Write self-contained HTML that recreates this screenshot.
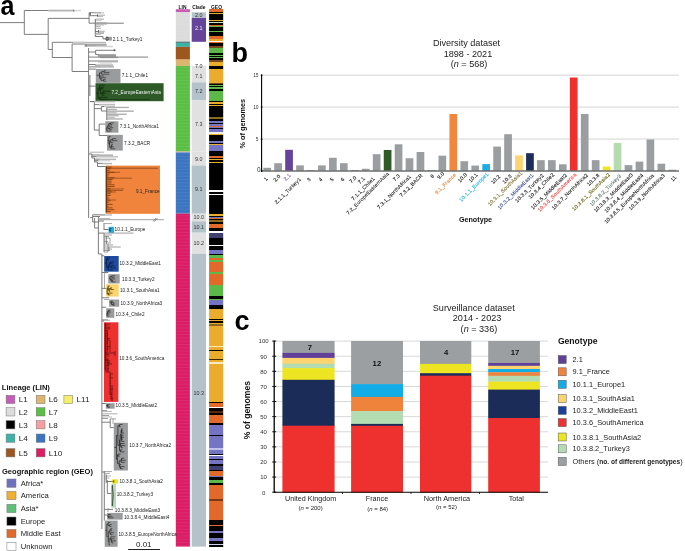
<!DOCTYPE html>
<html><head><meta charset="utf-8"><style>
html,body{margin:0;padding:0;background:#fff;width:685px;height:551px;overflow:hidden}
svg{display:block;font-family:"Liberation Sans", sans-serif;will-change:transform}
</style></head><body>
<svg width="685" height="551" viewBox="0 0 685 551">
<text x="0" y="0" font-size="27" fill="#000" font-weight="bold" transform="translate(0.6 14.9) scale(0.93 1)">a</text>
<text x="231.50" y="61.80" font-size="27" fill="#000" text-anchor="start" font-weight="bold" >b</text>
<text x="234.60" y="329.90" font-size="27" fill="#000" text-anchor="start" font-weight="bold" >c</text>
<text x="432.90" y="45.70" font-size="9.1" fill="#222" text-anchor="start" font-weight="normal" >Diversity dataset</text>
<text x="443.70" y="56.80" font-size="9.1" fill="#222" text-anchor="start" font-weight="normal" >1898 - 2021</text>
<text x="450.70" y="66.90" font-size="9.1" fill="#222" text-anchor="start" font-weight="normal" >(<tspan font-style="italic">n</tspan> = 568)</text>
<line x1="262.00" y1="139.05" x2="679.00" y2="139.05" stroke="#cfcfcf" stroke-width="0.9" />
<line x1="262.00" y1="107.10" x2="679.00" y2="107.10" stroke="#cfcfcf" stroke-width="0.9" />
<line x1="262.00" y1="75.15" x2="679.00" y2="75.15" stroke="#cfcfcf" stroke-width="0.9" />
<rect x="263.30" y="167.81" width="7.70" height="3.19" fill="#9b9ea1" />
<text x="268.15" y="179.10" font-size="5.2" letter-spacing="0.14" fill="#111" stroke="#111" stroke-width="0.12" text-anchor="end" transform="rotate(-45 268.15 179.10)">1</text>
<rect x="274.25" y="163.20" width="7.70" height="7.80" fill="#9b9ea1" />
<text x="280.80" y="176.70" font-size="5.2" letter-spacing="0.14" fill="#1a1a1a" stroke="#1a1a1a" stroke-width="0.12" text-anchor="end" transform="rotate(-45 280.80 176.70)">2.0</text>
<rect x="285.20" y="149.79" width="7.70" height="21.21" fill="#66449a" />
<text x="291.25" y="175.70" font-size="5.2" letter-spacing="0.14" fill="#7a5cb0" stroke="#7a5cb0" stroke-width="0.12" text-anchor="end" transform="rotate(-45 291.25 175.70)">2.1</text>
<rect x="296.15" y="165.38" width="7.70" height="5.62" fill="#9b9ea1" />
<text x="301.30" y="179.70" font-size="5.2" letter-spacing="0.14" fill="#1a1a1a" stroke="#1a1a1a" stroke-width="0.12" text-anchor="end" transform="rotate(-45 301.30 179.70)">2.1.1_Turkey1</text>
<rect x="307.10" y="169.98" width="7.70" height="1.02" fill="#9b9ea1" />
<text x="311.05" y="179.70" font-size="5.2" letter-spacing="0.14" fill="#1a1a1a" stroke="#1a1a1a" stroke-width="0.12" text-anchor="end" transform="rotate(-45 311.05 179.70)">3</text>
<rect x="318.05" y="165.38" width="7.70" height="5.62" fill="#9b9ea1" />
<text x="322.90" y="179.70" font-size="5.2" letter-spacing="0.14" fill="#1a1a1a" stroke="#1a1a1a" stroke-width="0.12" text-anchor="end" transform="rotate(-45 322.90 179.70)">4</text>
<rect x="329.00" y="157.77" width="7.70" height="13.23" fill="#9b9ea1" />
<text x="334.05" y="179.70" font-size="5.2" letter-spacing="0.14" fill="#1a1a1a" stroke="#1a1a1a" stroke-width="0.12" text-anchor="end" transform="rotate(-45 334.05 179.70)">5</text>
<rect x="339.95" y="163.20" width="7.70" height="7.80" fill="#9b9ea1" />
<text x="345.00" y="179.70" font-size="5.2" letter-spacing="0.14" fill="#1a1a1a" stroke="#1a1a1a" stroke-width="0.12" text-anchor="end" transform="rotate(-45 345.00 179.70)">6</text>
<rect x="350.90" y="169.98" width="7.70" height="1.02" fill="#9b9ea1" />
<text x="356.95" y="178.00" font-size="5.2" letter-spacing="0.14" fill="#1a1a1a" stroke="#1a1a1a" stroke-width="0.12" text-anchor="end" transform="rotate(-45 356.95 178.00)">7.0</text>
<rect x="361.85" y="168.76" width="7.70" height="2.24" fill="#9b9ea1" />
<text x="365.50" y="178.80" font-size="5.2" letter-spacing="0.14" fill="#1a1a1a" stroke="#1a1a1a" stroke-width="0.12" text-anchor="end" transform="rotate(-45 365.50 178.80)">7.1</text>
<rect x="372.80" y="154.19" width="7.70" height="16.81" fill="#9b9ea1" />
<text x="375.25" y="179.00" font-size="5.2" letter-spacing="0.14" fill="#1a1a1a" stroke="#1a1a1a" stroke-width="0.12" text-anchor="end" transform="rotate(-45 375.25 179.00)">7.1.1_Chile1</text>
<rect x="383.75" y="149.98" width="7.70" height="21.02" fill="#2e5a26" />
<text x="389.30" y="174.10" font-size="5.2" letter-spacing="0.14" fill="#333" stroke="#333" stroke-width="0.12" text-anchor="end" transform="rotate(-45 389.30 174.10)">7.2_EuropeEasternAsia</text>
<rect x="394.70" y="144.29" width="7.70" height="26.71" fill="#9b9ea1" />
<text x="400.35" y="176.00" font-size="5.2" letter-spacing="0.14" fill="#1a1a1a" stroke="#1a1a1a" stroke-width="0.12" text-anchor="end" transform="rotate(-45 400.35 176.00)">7.3</text>
<rect x="405.65" y="158.22" width="7.70" height="12.78" fill="#9b9ea1" />
<text x="411.50" y="176.80" font-size="5.2" letter-spacing="0.14" fill="#1a1a1a" stroke="#1a1a1a" stroke-width="0.12" text-anchor="end" transform="rotate(-45 411.50 176.80)">7.3.1_NorthAfrica1</text>
<rect x="416.60" y="152.02" width="7.70" height="18.98" fill="#9b9ea1" />
<text x="423.05" y="175.80" font-size="5.2" letter-spacing="0.14" fill="#1a1a1a" stroke="#1a1a1a" stroke-width="0.12" text-anchor="end" transform="rotate(-45 423.05 175.80)">7.3.2_BACR</text>
<rect x="427.55" y="169.98" width="7.70" height="1.02" fill="#9b9ea1" />
<text x="434.60" y="176.40" font-size="5.2" letter-spacing="0.14" fill="#1a1a1a" stroke="#1a1a1a" stroke-width="0.12" text-anchor="end" transform="rotate(-45 434.60 176.40)">8</text>
<rect x="438.50" y="155.66" width="7.70" height="15.34" fill="#9b9ea1" />
<text x="444.65" y="174.20" font-size="5.2" letter-spacing="0.14" fill="#1a1a1a" stroke="#1a1a1a" stroke-width="0.12" text-anchor="end" transform="rotate(-45 444.65 174.20)">9.0</text>
<rect x="449.45" y="114.00" width="7.70" height="57.00" fill="#f2863c" />
<text x="456.50" y="175.10" font-size="5.2" letter-spacing="0.14" fill="#f2863c" stroke="#f2863c" stroke-width="0.12" text-anchor="end" transform="rotate(-45 456.50 175.10)">9.1_France</text>
<rect x="460.40" y="161.22" width="7.70" height="9.78" fill="#9b9ea1" />
<text x="467.45" y="175.10" font-size="5.2" letter-spacing="0.14" fill="#1a1a1a" stroke="#1a1a1a" stroke-width="0.12" text-anchor="end" transform="rotate(-45 467.45 175.10)">10.0</text>
<rect x="471.35" y="165.57" width="7.70" height="5.43" fill="#9b9ea1" />
<text x="478.20" y="175.10" font-size="5.2" letter-spacing="0.14" fill="#1a1a1a" stroke="#1a1a1a" stroke-width="0.12" text-anchor="end" transform="rotate(-45 478.20 175.10)">10.1</text>
<rect x="482.30" y="164.10" width="7.70" height="6.90" fill="#1aaee6" />
<text x="488.85" y="174.50" font-size="5.2" letter-spacing="0.14" fill="#1aaee6" stroke="#1aaee6" stroke-width="0.12" text-anchor="end" transform="rotate(-45 488.85 174.50)">10.1.1_Europe1</text>
<rect x="493.25" y="146.59" width="7.70" height="24.41" fill="#9b9ea1" />
<text x="500.70" y="176.80" font-size="5.2" letter-spacing="0.14" fill="#1a1a1a" stroke="#1a1a1a" stroke-width="0.12" text-anchor="end" transform="rotate(-45 500.70 176.80)">10.2</text>
<rect x="504.20" y="134.19" width="7.70" height="36.81" fill="#9b9ea1" />
<text x="512.15" y="176.40" font-size="5.2" letter-spacing="0.14" fill="#1a1a1a" stroke="#1a1a1a" stroke-width="0.12" text-anchor="end" transform="rotate(-45 512.15 176.40)">10.3</text>
<rect x="515.15" y="155.41" width="7.70" height="15.59" fill="#fdd46f" />
<text x="522.60" y="173.50" font-size="5.2" letter-spacing="0.14" fill="#7a6a2a" stroke="#7a6a2a" stroke-width="0.12" text-anchor="end" transform="rotate(-45 522.60 173.50)">10.3.1_SouthAsia1</text>
<rect x="526.10" y="153.17" width="7.70" height="17.83" fill="#1d2d5a" />
<text x="533.95" y="175.50" font-size="5.2" letter-spacing="0.14" fill="#3c4c8c" stroke="#3c4c8c" stroke-width="0.12" text-anchor="end" transform="rotate(-45 533.95 175.50)">10.3.2_MiddleEast1</text>
<rect x="537.05" y="160.14" width="7.70" height="10.86" fill="#9b9ea1" />
<text x="544.10" y="175.90" font-size="5.2" letter-spacing="0.14" fill="#1a1a1a" stroke="#1a1a1a" stroke-width="0.12" text-anchor="end" transform="rotate(-45 544.10 175.90)">10.3.3_Turkey2</text>
<rect x="548.00" y="160.14" width="7.70" height="10.86" fill="#9b9ea1" />
<text x="554.55" y="175.10" font-size="5.2" letter-spacing="0.14" fill="#1a1a1a" stroke="#1a1a1a" stroke-width="0.12" text-anchor="end" transform="rotate(-45 554.55 175.10)">10.3.4_Chile2</text>
<rect x="558.95" y="164.29" width="7.70" height="6.71" fill="#9b9ea1" />
<text x="567.30" y="175.50" font-size="5.2" letter-spacing="0.14" fill="#1a1a1a" stroke="#1a1a1a" stroke-width="0.12" text-anchor="end" transform="rotate(-45 567.30 175.50)">10.3.5_MiddleEast2</text>
<rect x="569.90" y="77.51" width="7.70" height="93.49" fill="#ee302e" />
<text x="576.95" y="174.90" font-size="5.2" letter-spacing="0.14" fill="#f04040" stroke="#f04040" stroke-width="0.12" text-anchor="end" transform="rotate(-45 576.95 174.90)">10.3.6_SouthAmerica</text>
<rect x="580.85" y="114.00" width="7.70" height="57.00" fill="#9b9ea1" />
<text x="588.30" y="175.50" font-size="5.2" letter-spacing="0.14" fill="#1a1a1a" stroke="#1a1a1a" stroke-width="0.12" text-anchor="end" transform="rotate(-45 588.30 175.50)">10.3.7_NorthAfrica2</text>
<rect x="591.80" y="160.14" width="7.70" height="10.86" fill="#9b9ea1" />
<text x="599.85" y="175.50" font-size="5.2" letter-spacing="0.14" fill="#1a1a1a" stroke="#1a1a1a" stroke-width="0.12" text-anchor="end" transform="rotate(-45 599.85 175.50)">10.3.8</text>
<rect x="602.75" y="166.53" width="7.70" height="4.47" fill="#ede521" />
<text x="610.30" y="175.10" font-size="5.2" letter-spacing="0.14" fill="#62620e" stroke="#62620e" stroke-width="0.12" text-anchor="end" transform="rotate(-45 610.30 175.10)">10.3.8.1_SouthAsia2</text>
<rect x="613.70" y="143.01" width="7.70" height="27.99" fill="#b4dcb0" />
<text x="621.65" y="176.40" font-size="5.2" letter-spacing="0.14" fill="#5a7a6a" stroke="#5a7a6a" stroke-width="0.12" text-anchor="end" transform="rotate(-45 621.65 176.40)">10.3.8.2_Turkey3</text>
<rect x="624.65" y="165.12" width="7.70" height="5.88" fill="#9b9ea1" />
<text x="633.40" y="175.10" font-size="5.2" letter-spacing="0.14" fill="#1a1a1a" stroke="#1a1a1a" stroke-width="0.12" text-anchor="end" transform="rotate(-45 633.40 175.10)">10.3.8.3_MiddleEast3</text>
<rect x="635.60" y="161.61" width="7.70" height="9.39" fill="#9b9ea1" />
<text x="643.85" y="175.50" font-size="5.2" letter-spacing="0.14" fill="#1a1a1a" stroke="#1a1a1a" stroke-width="0.12" text-anchor="end" transform="rotate(-45 643.85 175.50)">10.3.8.4_MiddleEast4</text>
<rect x="646.55" y="139.50" width="7.70" height="31.50" fill="#9b9ea1" />
<text x="654.50" y="175.80" font-size="5.2" letter-spacing="0.14" fill="#1a1a1a" stroke="#1a1a1a" stroke-width="0.12" text-anchor="end" transform="rotate(-45 654.50 175.80)">10.3.8.5_EuropeNorthAfrica</text>
<rect x="657.50" y="163.72" width="7.70" height="7.28" fill="#9b9ea1" />
<text x="665.35" y="175.90" font-size="5.2" letter-spacing="0.14" fill="#1a1a1a" stroke="#1a1a1a" stroke-width="0.12" text-anchor="end" transform="rotate(-45 665.35 175.90)">10.3.9_NorthAfrica3</text>
<rect x="668.45" y="169.72" width="7.70" height="1.28" fill="#9b9ea1" />
<text x="676.70" y="177.70" font-size="5.2" letter-spacing="0.14" fill="#1a1a1a" stroke="#1a1a1a" stroke-width="0.12" text-anchor="end" transform="rotate(-45 676.70 177.70)">11</text>
<line x1="261.50" y1="171.00" x2="679.00" y2="171.00" stroke="#6e6e6e" stroke-width="1.3" />
<line x1="261.60" y1="75.30" x2="261.60" y2="171.50" stroke="#000" stroke-width="1.1" />
<circle cx="261.6" cy="171.00" r="0.9" fill="#000"/>
<text x="260.50" y="171.80" font-size="6.4" fill="#333" text-anchor="end" font-weight="normal" >0</text>
<circle cx="261.6" cy="139.05" r="0.9" fill="#000"/>
<text x="258.60" y="140.85" font-size="4.9" fill="#333" text-anchor="end" font-weight="normal" >5</text>
<circle cx="261.6" cy="107.10" r="0.9" fill="#000"/>
<text x="258.60" y="108.90" font-size="4.9" fill="#333" text-anchor="end" font-weight="normal" >10</text>
<circle cx="261.6" cy="75.15" r="0.9" fill="#000"/>
<text x="258.60" y="76.95" font-size="4.9" fill="#333" text-anchor="end" font-weight="normal" >15</text>
<text x="242.6" y="123.7" font-size="7.3" font-weight="bold" fill="#111" text-anchor="middle" transform="rotate(-90 242.6 123.7)" dy="2.5">% of genomes</text>
<text x="458.90" y="221.90" font-size="7.2" fill="#111" text-anchor="start" font-weight="bold" >Genotype</text>
<text x="432.80" y="310.70" font-size="9.1" fill="#222" text-anchor="start" font-weight="normal" >Surveillance dataset</text>
<text x="452.80" y="321.40" font-size="9.1" fill="#222" text-anchor="start" font-weight="normal" >2014 - 2023</text>
<text x="460.60" y="331.60" font-size="9.1" fill="#222" text-anchor="start" font-weight="normal" >(<tspan font-style="italic">n</tspan> = 336)</text>
<line x1="275.00" y1="477.09" x2="548.00" y2="477.09" stroke="#d4d4d4" stroke-width="0.9" />
<line x1="275.00" y1="461.98" x2="548.00" y2="461.98" stroke="#d4d4d4" stroke-width="0.9" />
<line x1="275.00" y1="446.87" x2="548.00" y2="446.87" stroke="#d4d4d4" stroke-width="0.9" />
<line x1="275.00" y1="431.76" x2="548.00" y2="431.76" stroke="#d4d4d4" stroke-width="0.9" />
<line x1="275.00" y1="416.65" x2="548.00" y2="416.65" stroke="#d4d4d4" stroke-width="0.9" />
<line x1="275.00" y1="401.54" x2="548.00" y2="401.54" stroke="#d4d4d4" stroke-width="0.9" />
<line x1="275.00" y1="386.43" x2="548.00" y2="386.43" stroke="#d4d4d4" stroke-width="0.9" />
<line x1="275.00" y1="371.32" x2="548.00" y2="371.32" stroke="#d4d4d4" stroke-width="0.9" />
<line x1="275.00" y1="356.21" x2="548.00" y2="356.21" stroke="#d4d4d4" stroke-width="0.9" />
<line x1="275.00" y1="341.10" x2="548.00" y2="341.10" stroke="#d4d4d4" stroke-width="0.9" />
<rect x="282.40" y="341.00" width="52.20" height="12.20" fill="#9c9fa1" />
<rect x="282.40" y="352.90" width="52.20" height="5.30" fill="#61409a" />
<rect x="282.40" y="357.90" width="52.20" height="6.10" fill="#fdd46f" />
<rect x="282.40" y="363.70" width="52.20" height="4.70" fill="#b4dcb2" />
<rect x="282.40" y="368.10" width="52.20" height="12.00" fill="#ede521" />
<rect x="282.40" y="379.80" width="52.20" height="46.20" fill="#1c2c58" />
<rect x="282.40" y="425.70" width="52.20" height="66.80" fill="#ee302e" />
<text x="310.00" y="349.80" font-size="7.7" fill="#111" text-anchor="middle" font-weight="bold" >7</text>
<rect x="351.10" y="341.00" width="51.90" height="43.40" fill="#9c9fa1" />
<rect x="351.10" y="384.10" width="51.90" height="13.10" fill="#12ade6" />
<rect x="351.10" y="396.90" width="51.90" height="14.50" fill="#f0833c" />
<rect x="351.10" y="411.10" width="51.90" height="13.10" fill="#b4dcb2" />
<rect x="351.10" y="423.90" width="51.90" height="2.20" fill="#1c2c58" />
<rect x="351.10" y="425.80" width="51.90" height="66.70" fill="#ee302e" />
<text x="376.90" y="366.00" font-size="7.7" fill="#111" text-anchor="middle" font-weight="bold" >12</text>
<rect x="420.00" y="341.00" width="51.30" height="23.20" fill="#9c9fa1" />
<rect x="420.00" y="363.90" width="51.30" height="9.60" fill="#ede521" />
<rect x="420.00" y="373.20" width="51.30" height="2.80" fill="#1c2c58" />
<rect x="420.00" y="375.70" width="51.30" height="116.80" fill="#ee302e" />
<text x="446.20" y="354.90" font-size="7.7" fill="#111" text-anchor="middle" font-weight="bold" >4</text>
<rect x="488.20" y="341.00" width="51.70" height="22.30" fill="#9c9fa1" />
<rect x="488.20" y="363.00" width="51.70" height="3.10" fill="#61409a" />
<rect x="488.20" y="365.80" width="51.70" height="3.50" fill="#fdd46f" />
<rect x="488.20" y="369.00" width="51.70" height="3.50" fill="#12ade6" />
<rect x="488.20" y="372.20" width="51.70" height="3.90" fill="#f0833c" />
<rect x="488.20" y="375.80" width="51.70" height="6.10" fill="#b4dcb2" />
<rect x="488.20" y="381.60" width="51.70" height="8.30" fill="#ede521" />
<rect x="488.20" y="389.60" width="51.70" height="28.70" fill="#1c2c58" />
<rect x="488.20" y="418.00" width="51.70" height="74.50" fill="#ee302e" />
<text x="515.00" y="355.00" font-size="7.7" fill="#111" text-anchor="middle" font-weight="bold" >17</text>
<line x1="274.00" y1="492.20" x2="548.00" y2="492.20" stroke="#000" stroke-width="1.1" />
<line x1="342.50" y1="492.20" x2="342.50" y2="494.00" stroke="#000" stroke-width="0.8" />
<line x1="411.00" y1="492.20" x2="411.00" y2="494.00" stroke="#000" stroke-width="0.8" />
<line x1="479.50" y1="492.20" x2="479.50" y2="494.00" stroke="#000" stroke-width="0.8" />
<line x1="274.20" y1="340.50" x2="274.20" y2="492.70" stroke="#000" stroke-width="1.3" />
<line x1="272.20" y1="492.20" x2="276.20" y2="492.20" stroke="#000" stroke-width="0.9" />
<text x="263.60" y="494.50" font-size="6.0" fill="#333" text-anchor="middle" font-weight="normal" >0</text>
<line x1="272.20" y1="477.09" x2="276.20" y2="477.09" stroke="#000" stroke-width="0.9" />
<text x="263.60" y="479.39" font-size="6.0" fill="#333" text-anchor="middle" font-weight="normal" >10</text>
<line x1="272.20" y1="461.98" x2="276.20" y2="461.98" stroke="#000" stroke-width="0.9" />
<text x="263.60" y="464.28" font-size="6.0" fill="#333" text-anchor="middle" font-weight="normal" >20</text>
<line x1="272.20" y1="446.87" x2="276.20" y2="446.87" stroke="#000" stroke-width="0.9" />
<text x="263.60" y="449.17" font-size="6.0" fill="#333" text-anchor="middle" font-weight="normal" >30</text>
<line x1="272.20" y1="431.76" x2="276.20" y2="431.76" stroke="#000" stroke-width="0.9" />
<text x="263.60" y="434.06" font-size="6.0" fill="#333" text-anchor="middle" font-weight="normal" >40</text>
<line x1="272.20" y1="416.65" x2="276.20" y2="416.65" stroke="#000" stroke-width="0.9" />
<text x="263.60" y="418.95" font-size="6.0" fill="#333" text-anchor="middle" font-weight="normal" >50</text>
<line x1="272.20" y1="401.54" x2="276.20" y2="401.54" stroke="#000" stroke-width="0.9" />
<text x="263.60" y="403.84" font-size="6.0" fill="#333" text-anchor="middle" font-weight="normal" >60</text>
<line x1="272.20" y1="386.43" x2="276.20" y2="386.43" stroke="#000" stroke-width="0.9" />
<text x="263.60" y="388.73" font-size="6.0" fill="#333" text-anchor="middle" font-weight="normal" >70</text>
<line x1="272.20" y1="371.32" x2="276.20" y2="371.32" stroke="#000" stroke-width="0.9" />
<text x="263.60" y="373.62" font-size="6.0" fill="#333" text-anchor="middle" font-weight="normal" >80</text>
<line x1="272.20" y1="356.21" x2="276.20" y2="356.21" stroke="#000" stroke-width="0.9" />
<text x="263.60" y="358.51" font-size="6.0" fill="#333" text-anchor="middle" font-weight="normal" >90</text>
<line x1="272.20" y1="341.10" x2="276.20" y2="341.10" stroke="#000" stroke-width="0.9" />
<text x="263.60" y="343.40" font-size="6.0" fill="#333" text-anchor="middle" font-weight="normal" >100</text>
<text x="247.2" y="410.1" font-size="8.6" font-weight="bold" fill="#111" text-anchor="middle" transform="rotate(-90 247.2 410.1)" dy="3">% of genomes</text>
<text x="310.60" y="501.00" font-size="7.2" fill="#222" text-anchor="middle" font-weight="normal" >United Kingdom</text>
<text x="377.00" y="501.00" font-size="7.2" fill="#222" text-anchor="middle" font-weight="normal" >France</text>
<text x="446.90" y="501.00" font-size="7.35" fill="#222" text-anchor="middle" font-weight="normal" >North America</text>
<text x="516.30" y="501.00" font-size="7.2" fill="#222" text-anchor="middle" font-weight="normal" >Total</text>
<text x="310.60" y="510.00" font-size="6.0" fill="#222" text-anchor="middle" font-weight="normal" >(<tspan font-style="italic">n</tspan> = 200)</text>
<text x="377.70" y="510.50" font-size="6.0" fill="#222" text-anchor="middle" font-weight="normal" >(<tspan font-style="italic">n</tspan> = 84)</text>
<text x="446.50" y="508.90" font-size="6.0" fill="#222" text-anchor="middle" font-weight="normal" >(<tspan font-style="italic">n</tspan> = 52)</text>
<text x="557.90" y="344.00" font-size="8.6" fill="#111" text-anchor="start" font-weight="bold" >Genotype</text>
<rect x="558.20" y="355.60" width="8.00" height="8.00" fill="#61409a" stroke="#555" stroke-width="0.5"/>
<text x="572.50" y="362.20" font-size="7.4" fill="#222" text-anchor="start" font-weight="normal" >2.1</text>
<rect x="558.20" y="367.80" width="8.00" height="8.00" fill="#f0833c" stroke="#555" stroke-width="0.5"/>
<text x="572.50" y="374.40" font-size="7.4" fill="#222" text-anchor="start" font-weight="normal" >9.1_France</text>
<rect x="558.20" y="380.30" width="8.00" height="8.00" fill="#12ade6" stroke="#555" stroke-width="0.5"/>
<text x="572.50" y="386.90" font-size="7.4" fill="#222" text-anchor="start" font-weight="normal" >10.1.1_Europe1</text>
<rect x="558.20" y="394.70" width="8.00" height="8.00" fill="#fdd46f" stroke="#555" stroke-width="0.5"/>
<text x="572.50" y="401.30" font-size="7.4" fill="#222" text-anchor="start" font-weight="normal" >10.3.1_SouthAsia1</text>
<rect x="558.20" y="406.40" width="8.00" height="8.00" fill="#18409a" stroke="#555" stroke-width="0.5"/>
<text x="572.50" y="413.00" font-size="7.4" fill="#222" text-anchor="start" font-weight="normal" >10.3.2_MiddleEast1</text>
<rect x="558.20" y="418.60" width="8.00" height="8.00" fill="#ee302e" stroke="#555" stroke-width="0.5"/>
<text x="572.50" y="425.20" font-size="7.4" fill="#222" text-anchor="start" font-weight="normal" >10.3.6_SouthAmerica</text>
<rect x="558.20" y="433.00" width="8.00" height="8.00" fill="#ede521" stroke="#555" stroke-width="0.5"/>
<text x="572.50" y="439.60" font-size="7.4" fill="#222" text-anchor="start" font-weight="normal" >10.3.8.1_SouthAsia2</text>
<rect x="558.20" y="444.80" width="8.00" height="8.00" fill="#b4dcb2" stroke="#555" stroke-width="0.5"/>
<text x="572.50" y="451.40" font-size="7.4" fill="#222" text-anchor="start" font-weight="normal" >10.3.8.2_Turkey3</text>
<rect x="558.20" y="457.40" width="8.00" height="8.00" fill="#9c9fa1" stroke="#555" stroke-width="0.5"/>
<text x="572.50" y="464.00" font-size="7.4" fill="#222" text-anchor="start" font-weight="normal" >Others (<tspan font-weight="bold" font-size="6.6">no. of different genotypes</tspan>)</text>
<text x="1.80" y="389.90" font-size="7.6" fill="#111" text-anchor="start" font-weight="bold" >Lineage (LIN)</text>
<rect x="6.10" y="395.30" width="8.80" height="8.30" fill="#c55db5" stroke="#777" stroke-width="0.5"/>
<text x="18.70" y="402.30" font-size="8.1" fill="#222" text-anchor="start" font-weight="normal" >L1</text>
<rect x="6.10" y="407.70" width="8.80" height="8.30" fill="#dcdcdc" stroke="#777" stroke-width="0.5"/>
<text x="18.70" y="414.70" font-size="8.1" fill="#222" text-anchor="start" font-weight="normal" >L2</text>
<rect x="6.10" y="420.60" width="8.80" height="8.30" fill="#000" stroke="#777" stroke-width="0.5"/>
<text x="18.70" y="427.60" font-size="8.1" fill="#222" text-anchor="start" font-weight="normal" >L3</text>
<rect x="6.10" y="434.00" width="8.80" height="8.30" fill="#3db3a8" stroke="#777" stroke-width="0.5"/>
<text x="18.70" y="441.00" font-size="8.1" fill="#222" text-anchor="start" font-weight="normal" >L4</text>
<rect x="6.10" y="448.60" width="8.80" height="8.30" fill="#9e561f" stroke="#777" stroke-width="0.5"/>
<text x="18.70" y="455.60" font-size="8.1" fill="#222" text-anchor="start" font-weight="normal" >L5</text>
<rect x="36.20" y="395.30" width="8.80" height="8.30" fill="#dcb56e" stroke="#777" stroke-width="0.5"/>
<text x="48.80" y="402.30" font-size="8.1" fill="#222" text-anchor="start" font-weight="normal" >L6</text>
<rect x="36.20" y="407.70" width="8.80" height="8.30" fill="#5abf44" stroke="#777" stroke-width="0.5"/>
<text x="48.80" y="414.70" font-size="8.1" fill="#222" text-anchor="start" font-weight="normal" >L7</text>
<rect x="36.20" y="420.60" width="8.80" height="8.30" fill="#f4a09e" stroke="#777" stroke-width="0.5"/>
<text x="48.80" y="427.60" font-size="8.1" fill="#222" text-anchor="start" font-weight="normal" >L8</text>
<rect x="36.20" y="434.00" width="8.80" height="8.30" fill="#3b75c2" stroke="#777" stroke-width="0.5"/>
<text x="48.80" y="441.00" font-size="8.1" fill="#222" text-anchor="start" font-weight="normal" >L9</text>
<rect x="36.20" y="448.60" width="8.80" height="8.30" fill="#dc1d66" stroke="#777" stroke-width="0.5"/>
<text x="48.80" y="455.60" font-size="8.1" fill="#222" text-anchor="start" font-weight="normal" >L10</text>
<rect x="63.90" y="395.30" width="8.80" height="8.30" fill="#f7ee6c" stroke="#777" stroke-width="0.5"/>
<text x="76.50" y="402.30" font-size="8.1" fill="#222" text-anchor="start" font-weight="normal" >L11</text>
<text x="2.00" y="474.00" font-size="7.55" fill="#111" text-anchor="start" font-weight="bold" >Geographic region (GEO)</text>
<rect x="6.90" y="479.00" width="9.10" height="8.30" fill="#7070c0" stroke="#777" stroke-width="0.5"/>
<text x="20.70" y="486.00" font-size="7.65" fill="#222" text-anchor="start" font-weight="normal" >Africa*</text>
<rect x="6.90" y="491.40" width="9.10" height="8.30" fill="#f0b02e" stroke="#777" stroke-width="0.5"/>
<text x="20.70" y="498.40" font-size="7.65" fill="#222" text-anchor="start" font-weight="normal" >America</text>
<rect x="6.90" y="504.30" width="9.10" height="8.30" fill="#5cc078" stroke="#777" stroke-width="0.5"/>
<text x="20.70" y="511.30" font-size="7.65" fill="#222" text-anchor="start" font-weight="normal" >Asia*</text>
<rect x="6.90" y="517.00" width="9.10" height="8.30" fill="#000" stroke="#777" stroke-width="0.5"/>
<text x="20.70" y="524.00" font-size="7.65" fill="#222" text-anchor="start" font-weight="normal" >Europe</text>
<rect x="6.90" y="529.40" width="9.10" height="8.30" fill="#e06a28" stroke="#777" stroke-width="0.5"/>
<text x="20.70" y="536.40" font-size="7.65" fill="#222" text-anchor="start" font-weight="normal" >Middle East</text>
<rect x="6.90" y="542.30" width="9.10" height="8.30" fill="#fff" stroke="#777" stroke-width="0.5"/>
<text x="20.70" y="549.30" font-size="7.65" fill="#222" text-anchor="start" font-weight="normal" >Unknown</text>
<rect x="175.80" y="9.20" width="14.10" height="3.10" fill="#c55db5" />
<rect x="175.80" y="12.30" width="14.10" height="29.50" fill="#dcdcdc" />
<rect x="175.80" y="41.80" width="14.10" height="0.80" fill="#000" />
<rect x="175.80" y="42.60" width="14.10" height="4.30" fill="#3db3a8" />
<rect x="175.80" y="46.90" width="14.10" height="12.70" fill="#9e561f" />
<rect x="175.80" y="59.60" width="14.10" height="6.30" fill="#dcb56e" />
<rect x="175.80" y="65.90" width="14.10" height="85.70" fill="#5abf44" />
<rect x="175.80" y="151.60" width="14.10" height="0.80" fill="#f4a09e" />
<rect x="175.80" y="152.40" width="14.10" height="61.30" fill="#3b75c2" />
<rect x="175.80" y="213.70" width="14.10" height="332.90" fill="#dc1d66" />
<rect x="175.80" y="14.00" width="14.10" height="1.00" fill="#fff" fill-opacity="0.07"/>
<rect x="175.80" y="17.30" width="14.10" height="1.00" fill="#fff" fill-opacity="0.07"/>
<rect x="175.80" y="20.60" width="14.10" height="1.00" fill="#fff" fill-opacity="0.07"/>
<rect x="175.80" y="23.90" width="14.10" height="1.00" fill="#fff" fill-opacity="0.07"/>
<rect x="175.80" y="27.20" width="14.10" height="1.00" fill="#fff" fill-opacity="0.07"/>
<rect x="175.80" y="30.50" width="14.10" height="1.00" fill="#fff" fill-opacity="0.07"/>
<rect x="175.80" y="33.80" width="14.10" height="1.00" fill="#fff" fill-opacity="0.07"/>
<rect x="175.80" y="37.10" width="14.10" height="1.00" fill="#fff" fill-opacity="0.07"/>
<rect x="175.80" y="40.40" width="14.10" height="1.00" fill="#fff" fill-opacity="0.07"/>
<rect x="175.80" y="66.80" width="14.10" height="1.00" fill="#fff" fill-opacity="0.07"/>
<rect x="175.80" y="70.10" width="14.10" height="1.00" fill="#fff" fill-opacity="0.07"/>
<rect x="175.80" y="73.40" width="14.10" height="1.00" fill="#fff" fill-opacity="0.07"/>
<rect x="175.80" y="76.70" width="14.10" height="1.00" fill="#fff" fill-opacity="0.07"/>
<rect x="175.80" y="80.00" width="14.10" height="1.00" fill="#fff" fill-opacity="0.07"/>
<rect x="175.80" y="83.30" width="14.10" height="1.00" fill="#fff" fill-opacity="0.07"/>
<rect x="175.80" y="86.60" width="14.10" height="1.00" fill="#fff" fill-opacity="0.07"/>
<rect x="175.80" y="89.90" width="14.10" height="1.00" fill="#fff" fill-opacity="0.07"/>
<rect x="175.80" y="93.20" width="14.10" height="1.00" fill="#fff" fill-opacity="0.07"/>
<rect x="175.80" y="96.50" width="14.10" height="1.00" fill="#fff" fill-opacity="0.07"/>
<rect x="175.80" y="99.80" width="14.10" height="1.00" fill="#fff" fill-opacity="0.07"/>
<rect x="175.80" y="103.10" width="14.10" height="1.00" fill="#fff" fill-opacity="0.07"/>
<rect x="175.80" y="106.40" width="14.10" height="1.00" fill="#fff" fill-opacity="0.07"/>
<rect x="175.80" y="109.70" width="14.10" height="1.00" fill="#fff" fill-opacity="0.07"/>
<rect x="175.80" y="113.00" width="14.10" height="1.00" fill="#fff" fill-opacity="0.07"/>
<rect x="175.80" y="116.30" width="14.10" height="1.00" fill="#fff" fill-opacity="0.07"/>
<rect x="175.80" y="119.60" width="14.10" height="1.00" fill="#fff" fill-opacity="0.07"/>
<rect x="175.80" y="122.90" width="14.10" height="1.00" fill="#fff" fill-opacity="0.07"/>
<rect x="175.80" y="126.20" width="14.10" height="1.00" fill="#fff" fill-opacity="0.07"/>
<rect x="175.80" y="129.50" width="14.10" height="1.00" fill="#fff" fill-opacity="0.07"/>
<rect x="175.80" y="132.80" width="14.10" height="1.00" fill="#fff" fill-opacity="0.07"/>
<rect x="175.80" y="136.10" width="14.10" height="1.00" fill="#fff" fill-opacity="0.07"/>
<rect x="175.80" y="139.40" width="14.10" height="1.00" fill="#fff" fill-opacity="0.07"/>
<rect x="175.80" y="142.70" width="14.10" height="1.00" fill="#fff" fill-opacity="0.07"/>
<rect x="175.80" y="146.00" width="14.10" height="1.00" fill="#fff" fill-opacity="0.07"/>
<rect x="175.80" y="149.30" width="14.10" height="1.00" fill="#fff" fill-opacity="0.07"/>
<rect x="175.80" y="152.60" width="14.10" height="1.00" fill="#fff" fill-opacity="0.07"/>
<rect x="175.80" y="155.90" width="14.10" height="1.00" fill="#fff" fill-opacity="0.07"/>
<rect x="175.80" y="159.20" width="14.10" height="1.00" fill="#fff" fill-opacity="0.07"/>
<rect x="175.80" y="162.50" width="14.10" height="1.00" fill="#fff" fill-opacity="0.07"/>
<rect x="175.80" y="165.80" width="14.10" height="1.00" fill="#fff" fill-opacity="0.07"/>
<rect x="175.80" y="169.10" width="14.10" height="1.00" fill="#fff" fill-opacity="0.07"/>
<rect x="175.80" y="172.40" width="14.10" height="1.00" fill="#fff" fill-opacity="0.07"/>
<rect x="175.80" y="175.70" width="14.10" height="1.00" fill="#fff" fill-opacity="0.07"/>
<rect x="175.80" y="179.00" width="14.10" height="1.00" fill="#fff" fill-opacity="0.07"/>
<rect x="175.80" y="182.30" width="14.10" height="1.00" fill="#fff" fill-opacity="0.07"/>
<rect x="175.80" y="185.60" width="14.10" height="1.00" fill="#fff" fill-opacity="0.07"/>
<rect x="175.80" y="188.90" width="14.10" height="1.00" fill="#fff" fill-opacity="0.07"/>
<rect x="175.80" y="192.20" width="14.10" height="1.00" fill="#fff" fill-opacity="0.07"/>
<rect x="175.80" y="195.50" width="14.10" height="1.00" fill="#fff" fill-opacity="0.07"/>
<rect x="175.80" y="198.80" width="14.10" height="1.00" fill="#fff" fill-opacity="0.07"/>
<rect x="175.80" y="202.10" width="14.10" height="1.00" fill="#fff" fill-opacity="0.07"/>
<rect x="175.80" y="205.40" width="14.10" height="1.00" fill="#fff" fill-opacity="0.07"/>
<rect x="175.80" y="208.70" width="14.10" height="1.00" fill="#fff" fill-opacity="0.07"/>
<rect x="175.80" y="212.00" width="14.10" height="1.00" fill="#fff" fill-opacity="0.07"/>
<rect x="175.80" y="215.30" width="14.10" height="1.00" fill="#fff" fill-opacity="0.07"/>
<rect x="175.80" y="218.60" width="14.10" height="1.00" fill="#fff" fill-opacity="0.07"/>
<rect x="175.80" y="221.90" width="14.10" height="1.00" fill="#fff" fill-opacity="0.07"/>
<rect x="175.80" y="225.20" width="14.10" height="1.00" fill="#fff" fill-opacity="0.07"/>
<rect x="175.80" y="228.50" width="14.10" height="1.00" fill="#fff" fill-opacity="0.07"/>
<rect x="175.80" y="231.80" width="14.10" height="1.00" fill="#fff" fill-opacity="0.07"/>
<rect x="175.80" y="235.10" width="14.10" height="1.00" fill="#fff" fill-opacity="0.07"/>
<rect x="175.80" y="238.40" width="14.10" height="1.00" fill="#fff" fill-opacity="0.07"/>
<rect x="175.80" y="241.70" width="14.10" height="1.00" fill="#fff" fill-opacity="0.07"/>
<rect x="175.80" y="245.00" width="14.10" height="1.00" fill="#fff" fill-opacity="0.07"/>
<rect x="175.80" y="248.30" width="14.10" height="1.00" fill="#fff" fill-opacity="0.07"/>
<rect x="175.80" y="251.60" width="14.10" height="1.00" fill="#fff" fill-opacity="0.07"/>
<rect x="175.80" y="254.90" width="14.10" height="1.00" fill="#fff" fill-opacity="0.07"/>
<rect x="175.80" y="258.20" width="14.10" height="1.00" fill="#fff" fill-opacity="0.07"/>
<rect x="175.80" y="261.50" width="14.10" height="1.00" fill="#fff" fill-opacity="0.07"/>
<rect x="175.80" y="264.80" width="14.10" height="1.00" fill="#fff" fill-opacity="0.07"/>
<rect x="175.80" y="268.10" width="14.10" height="1.00" fill="#fff" fill-opacity="0.07"/>
<rect x="175.80" y="271.40" width="14.10" height="1.00" fill="#fff" fill-opacity="0.07"/>
<rect x="175.80" y="274.70" width="14.10" height="1.00" fill="#fff" fill-opacity="0.07"/>
<rect x="175.80" y="278.00" width="14.10" height="1.00" fill="#fff" fill-opacity="0.07"/>
<rect x="175.80" y="281.30" width="14.10" height="1.00" fill="#fff" fill-opacity="0.07"/>
<rect x="175.80" y="284.60" width="14.10" height="1.00" fill="#fff" fill-opacity="0.07"/>
<rect x="175.80" y="287.90" width="14.10" height="1.00" fill="#fff" fill-opacity="0.07"/>
<rect x="175.80" y="291.20" width="14.10" height="1.00" fill="#fff" fill-opacity="0.07"/>
<rect x="175.80" y="294.50" width="14.10" height="1.00" fill="#fff" fill-opacity="0.07"/>
<rect x="175.80" y="297.80" width="14.10" height="1.00" fill="#fff" fill-opacity="0.07"/>
<rect x="175.80" y="301.10" width="14.10" height="1.00" fill="#fff" fill-opacity="0.07"/>
<rect x="175.80" y="304.40" width="14.10" height="1.00" fill="#fff" fill-opacity="0.07"/>
<rect x="175.80" y="307.70" width="14.10" height="1.00" fill="#fff" fill-opacity="0.07"/>
<rect x="175.80" y="311.00" width="14.10" height="1.00" fill="#fff" fill-opacity="0.07"/>
<rect x="175.80" y="314.30" width="14.10" height="1.00" fill="#fff" fill-opacity="0.07"/>
<rect x="175.80" y="317.60" width="14.10" height="1.00" fill="#fff" fill-opacity="0.07"/>
<rect x="175.80" y="320.90" width="14.10" height="1.00" fill="#fff" fill-opacity="0.07"/>
<rect x="175.80" y="324.20" width="14.10" height="1.00" fill="#fff" fill-opacity="0.07"/>
<rect x="175.80" y="327.50" width="14.10" height="1.00" fill="#fff" fill-opacity="0.07"/>
<rect x="175.80" y="330.80" width="14.10" height="1.00" fill="#fff" fill-opacity="0.07"/>
<rect x="175.80" y="334.10" width="14.10" height="1.00" fill="#fff" fill-opacity="0.07"/>
<rect x="175.80" y="337.40" width="14.10" height="1.00" fill="#fff" fill-opacity="0.07"/>
<rect x="175.80" y="340.70" width="14.10" height="1.00" fill="#fff" fill-opacity="0.07"/>
<rect x="175.80" y="344.00" width="14.10" height="1.00" fill="#fff" fill-opacity="0.07"/>
<rect x="175.80" y="347.30" width="14.10" height="1.00" fill="#fff" fill-opacity="0.07"/>
<rect x="175.80" y="350.60" width="14.10" height="1.00" fill="#fff" fill-opacity="0.07"/>
<rect x="175.80" y="353.90" width="14.10" height="1.00" fill="#fff" fill-opacity="0.07"/>
<rect x="175.80" y="357.20" width="14.10" height="1.00" fill="#fff" fill-opacity="0.07"/>
<rect x="175.80" y="360.50" width="14.10" height="1.00" fill="#fff" fill-opacity="0.07"/>
<rect x="175.80" y="363.80" width="14.10" height="1.00" fill="#fff" fill-opacity="0.07"/>
<rect x="175.80" y="367.10" width="14.10" height="1.00" fill="#fff" fill-opacity="0.07"/>
<rect x="175.80" y="370.40" width="14.10" height="1.00" fill="#fff" fill-opacity="0.07"/>
<rect x="175.80" y="373.70" width="14.10" height="1.00" fill="#fff" fill-opacity="0.07"/>
<rect x="175.80" y="377.00" width="14.10" height="1.00" fill="#fff" fill-opacity="0.07"/>
<rect x="175.80" y="380.30" width="14.10" height="1.00" fill="#fff" fill-opacity="0.07"/>
<rect x="175.80" y="383.60" width="14.10" height="1.00" fill="#fff" fill-opacity="0.07"/>
<rect x="175.80" y="386.90" width="14.10" height="1.00" fill="#fff" fill-opacity="0.07"/>
<rect x="175.80" y="390.20" width="14.10" height="1.00" fill="#fff" fill-opacity="0.07"/>
<rect x="175.80" y="393.50" width="14.10" height="1.00" fill="#fff" fill-opacity="0.07"/>
<rect x="175.80" y="396.80" width="14.10" height="1.00" fill="#fff" fill-opacity="0.07"/>
<rect x="175.80" y="400.10" width="14.10" height="1.00" fill="#fff" fill-opacity="0.07"/>
<rect x="175.80" y="403.40" width="14.10" height="1.00" fill="#fff" fill-opacity="0.07"/>
<rect x="175.80" y="406.70" width="14.10" height="1.00" fill="#fff" fill-opacity="0.07"/>
<rect x="175.80" y="410.00" width="14.10" height="1.00" fill="#fff" fill-opacity="0.07"/>
<rect x="175.80" y="413.30" width="14.10" height="1.00" fill="#fff" fill-opacity="0.07"/>
<rect x="175.80" y="416.60" width="14.10" height="1.00" fill="#fff" fill-opacity="0.07"/>
<rect x="175.80" y="419.90" width="14.10" height="1.00" fill="#fff" fill-opacity="0.07"/>
<rect x="175.80" y="423.20" width="14.10" height="1.00" fill="#fff" fill-opacity="0.07"/>
<rect x="175.80" y="426.50" width="14.10" height="1.00" fill="#fff" fill-opacity="0.07"/>
<rect x="175.80" y="429.80" width="14.10" height="1.00" fill="#fff" fill-opacity="0.07"/>
<rect x="175.80" y="433.10" width="14.10" height="1.00" fill="#fff" fill-opacity="0.07"/>
<rect x="175.80" y="436.40" width="14.10" height="1.00" fill="#fff" fill-opacity="0.07"/>
<rect x="175.80" y="439.70" width="14.10" height="1.00" fill="#fff" fill-opacity="0.07"/>
<rect x="175.80" y="443.00" width="14.10" height="1.00" fill="#fff" fill-opacity="0.07"/>
<rect x="175.80" y="446.30" width="14.10" height="1.00" fill="#fff" fill-opacity="0.07"/>
<rect x="175.80" y="449.60" width="14.10" height="1.00" fill="#fff" fill-opacity="0.07"/>
<rect x="175.80" y="452.90" width="14.10" height="1.00" fill="#fff" fill-opacity="0.07"/>
<rect x="175.80" y="456.20" width="14.10" height="1.00" fill="#fff" fill-opacity="0.07"/>
<rect x="175.80" y="459.50" width="14.10" height="1.00" fill="#fff" fill-opacity="0.07"/>
<rect x="175.80" y="462.80" width="14.10" height="1.00" fill="#fff" fill-opacity="0.07"/>
<rect x="175.80" y="466.10" width="14.10" height="1.00" fill="#fff" fill-opacity="0.07"/>
<rect x="175.80" y="469.40" width="14.10" height="1.00" fill="#fff" fill-opacity="0.07"/>
<rect x="175.80" y="472.70" width="14.10" height="1.00" fill="#fff" fill-opacity="0.07"/>
<rect x="175.80" y="476.00" width="14.10" height="1.00" fill="#fff" fill-opacity="0.07"/>
<rect x="175.80" y="479.30" width="14.10" height="1.00" fill="#fff" fill-opacity="0.07"/>
<rect x="175.80" y="482.60" width="14.10" height="1.00" fill="#fff" fill-opacity="0.07"/>
<rect x="175.80" y="485.90" width="14.10" height="1.00" fill="#fff" fill-opacity="0.07"/>
<rect x="175.80" y="489.20" width="14.10" height="1.00" fill="#fff" fill-opacity="0.07"/>
<rect x="175.80" y="492.50" width="14.10" height="1.00" fill="#fff" fill-opacity="0.07"/>
<rect x="175.80" y="495.80" width="14.10" height="1.00" fill="#fff" fill-opacity="0.07"/>
<rect x="175.80" y="499.10" width="14.10" height="1.00" fill="#fff" fill-opacity="0.07"/>
<rect x="175.80" y="502.40" width="14.10" height="1.00" fill="#fff" fill-opacity="0.07"/>
<rect x="175.80" y="505.70" width="14.10" height="1.00" fill="#fff" fill-opacity="0.07"/>
<rect x="175.80" y="509.00" width="14.10" height="1.00" fill="#fff" fill-opacity="0.07"/>
<rect x="175.80" y="512.30" width="14.10" height="1.00" fill="#fff" fill-opacity="0.07"/>
<rect x="175.80" y="515.60" width="14.10" height="1.00" fill="#fff" fill-opacity="0.07"/>
<rect x="175.80" y="518.90" width="14.10" height="1.00" fill="#fff" fill-opacity="0.07"/>
<rect x="175.80" y="522.20" width="14.10" height="1.00" fill="#fff" fill-opacity="0.07"/>
<rect x="175.80" y="525.50" width="14.10" height="1.00" fill="#fff" fill-opacity="0.07"/>
<rect x="175.80" y="528.80" width="14.10" height="1.00" fill="#fff" fill-opacity="0.07"/>
<rect x="175.80" y="532.10" width="14.10" height="1.00" fill="#fff" fill-opacity="0.07"/>
<rect x="175.80" y="535.40" width="14.10" height="1.00" fill="#fff" fill-opacity="0.07"/>
<rect x="175.80" y="538.70" width="14.10" height="1.00" fill="#fff" fill-opacity="0.07"/>
<rect x="175.80" y="542.00" width="14.10" height="1.00" fill="#fff" fill-opacity="0.07"/>
<rect x="175.80" y="545.30" width="14.10" height="1.00" fill="#fff" fill-opacity="0.07"/>
<text x="182.50" y="8.80" font-size="4.9" fill="#111" text-anchor="middle" font-weight="bold" >LIN</text>
<text x="198.80" y="8.80" font-size="4.9" fill="#111" text-anchor="middle" font-weight="bold" >Clade</text>
<text x="216.50" y="8.80" font-size="4.9" fill="#111" text-anchor="middle" font-weight="bold" >GEO</text>
<rect x="191.70" y="12.30" width="14.30" height="5.70" fill="#b4c2ca" />
<rect x="191.70" y="18.00" width="14.30" height="23.80" fill="#66449a" />
<rect x="191.70" y="65.90" width="14.30" height="1.10" fill="#e1e1e1" />
<rect x="191.70" y="67.00" width="14.30" height="15.40" fill="#e1e1e1" />
<rect x="191.70" y="82.40" width="14.30" height="17.80" fill="#b4c2ca" />
<rect x="191.70" y="100.20" width="14.30" height="51.40" fill="#e1e1e1" />
<rect x="191.70" y="151.60" width="14.30" height="13.90" fill="#e1e1e1" />
<rect x="191.70" y="165.50" width="14.30" height="48.20" fill="#b4c2ca" />
<rect x="191.70" y="213.70" width="14.30" height="7.60" fill="#e1e1e1" />
<rect x="191.70" y="221.30" width="14.30" height="11.40" fill="#b4c2ca" />
<rect x="191.70" y="232.70" width="14.30" height="21.10" fill="#e1e1e1" />
<rect x="191.70" y="253.80" width="14.30" height="292.80" fill="#b4c2ca" />
<text x="198.85" y="16.90" font-size="5.4" fill="#333" text-anchor="middle" font-weight="normal" >2.0</text>
<text x="198.85" y="30.40" font-size="5.4" fill="#eee" text-anchor="middle" font-weight="normal" >2.1</text>
<text x="198.85" y="67.80" font-size="5.4" fill="#333" text-anchor="middle" font-weight="normal" >7.0</text>
<text x="198.85" y="77.50" font-size="5.4" fill="#333" text-anchor="middle" font-weight="normal" >7.1</text>
<text x="198.85" y="92.70" font-size="5.4" fill="#333" text-anchor="middle" font-weight="normal" >7.2</text>
<text x="198.85" y="125.70" font-size="5.4" fill="#333" text-anchor="middle" font-weight="normal" >7.3</text>
<text x="198.85" y="161.10" font-size="5.4" fill="#333" text-anchor="middle" font-weight="normal" >9.0</text>
<text x="198.85" y="191.00" font-size="5.4" fill="#333" text-anchor="middle" font-weight="normal" >9.1</text>
<text x="198.85" y="219.40" font-size="5.4" fill="#333" text-anchor="middle" font-weight="normal" >10.0</text>
<text x="198.85" y="228.80" font-size="5.4" fill="#333" text-anchor="middle" font-weight="normal" >10.1</text>
<text x="198.85" y="244.80" font-size="5.4" fill="#333" text-anchor="middle" font-weight="normal" >10.2</text>
<text x="198.85" y="395.00" font-size="5.4" fill="#333" text-anchor="middle" font-weight="normal" >10.3</text>
<rect x="209.10" y="9.00" width="14.10" height="3.00" fill="#e2692a" />
<rect x="209.10" y="12.00" width="14.10" height="1.00" fill="#000" />
<rect x="209.10" y="13.00" width="14.10" height="1.00" fill="#ebab2c" />
<rect x="209.10" y="14.00" width="14.10" height="6.00" fill="#000" />
<rect x="209.10" y="20.00" width="14.10" height="1.00" fill="#ebab2c" />
<rect x="209.10" y="21.00" width="14.10" height="1.00" fill="#000" />
<rect x="209.10" y="22.00" width="14.10" height="1.00" fill="#c8e8c0" />
<rect x="209.10" y="23.00" width="14.10" height="2.00" fill="#000" />
<rect x="209.10" y="25.00" width="14.10" height="1.00" fill="#e2692a" />
<rect x="209.10" y="26.00" width="14.10" height="1.00" fill="#5cb848" />
<rect x="209.10" y="27.00" width="14.10" height="4.00" fill="#000" />
<rect x="209.10" y="31.00" width="14.10" height="1.00" fill="#5cb848" />
<rect x="209.10" y="32.00" width="14.10" height="4.00" fill="#000" />
<rect x="209.10" y="36.00" width="14.10" height="3.00" fill="#e2692a" />
<rect x="209.10" y="39.00" width="14.10" height="2.00" fill="#ebab2c" />
<rect x="209.10" y="41.00" width="14.10" height="1.00" fill="#fff" />
<rect x="209.10" y="42.00" width="14.10" height="1.00" fill="#e2692a" />
<rect x="209.10" y="43.00" width="14.10" height="3.00" fill="#000" />
<rect x="209.10" y="46.00" width="14.10" height="2.00" fill="#7a4a1c" />
<rect x="209.10" y="48.00" width="14.10" height="5.00" fill="#5cb848" />
<rect x="209.10" y="53.00" width="14.10" height="2.00" fill="#000" />
<rect x="209.10" y="55.00" width="14.10" height="1.00" fill="#5cb848" />
<rect x="209.10" y="56.00" width="14.10" height="1.00" fill="#000" />
<rect x="209.10" y="57.00" width="14.10" height="1.00" fill="#5cb848" />
<rect x="209.10" y="58.00" width="14.10" height="2.00" fill="#000" />
<rect x="209.10" y="60.00" width="14.10" height="2.00" fill="#7a4a1c" />
<rect x="209.10" y="62.00" width="14.10" height="4.00" fill="#ebab2c" />
<rect x="209.10" y="66.00" width="14.10" height="3.00" fill="#000" />
<rect x="209.10" y="69.00" width="14.10" height="14.00" fill="#ebab2c" />
<rect x="209.10" y="83.00" width="14.10" height="1.00" fill="#7a4a1c" />
<rect x="209.10" y="84.00" width="14.10" height="1.00" fill="#000" />
<rect x="209.10" y="85.00" width="14.10" height="1.00" fill="#5cb848" />
<rect x="209.10" y="86.00" width="14.10" height="1.00" fill="#000" />
<rect x="209.10" y="87.00" width="14.10" height="2.00" fill="#5cb848" />
<rect x="209.10" y="89.00" width="14.10" height="2.00" fill="#000" />
<rect x="209.10" y="91.00" width="14.10" height="10.00" fill="#5cb848" />
<rect x="209.10" y="101.00" width="14.10" height="1.00" fill="#000" />
<rect x="209.10" y="102.00" width="14.10" height="2.00" fill="#ebab2c" />
<rect x="209.10" y="104.00" width="14.10" height="1.00" fill="#000" />
<rect x="209.10" y="105.00" width="14.10" height="1.00" fill="#ebab2c" />
<rect x="209.10" y="106.00" width="14.10" height="11.00" fill="#000" />
<rect x="209.10" y="117.00" width="14.10" height="2.00" fill="#8a6a1c" />
<rect x="209.10" y="119.00" width="14.10" height="2.00" fill="#000" />
<rect x="209.10" y="121.00" width="14.10" height="2.00" fill="#7474c4" />
<rect x="209.10" y="123.00" width="14.10" height="1.00" fill="#000" />
<rect x="209.10" y="124.00" width="14.10" height="2.00" fill="#7474c4" />
<rect x="209.10" y="126.00" width="14.10" height="1.00" fill="#e2692a" />
<rect x="209.10" y="127.00" width="14.10" height="1.00" fill="#7474c4" />
<rect x="209.10" y="128.00" width="14.10" height="1.00" fill="#000" />
<rect x="209.10" y="129.00" width="14.10" height="3.00" fill="#7474c4" />
<rect x="209.10" y="132.00" width="14.10" height="2.00" fill="#f4f0e0" />
<rect x="209.10" y="134.00" width="14.10" height="1.00" fill="#ebab2c" />
<rect x="209.10" y="135.00" width="14.10" height="6.00" fill="#000" />
<rect x="209.10" y="141.00" width="14.10" height="2.00" fill="#7474c4" />
<rect x="209.10" y="143.00" width="14.10" height="1.00" fill="#000" />
<rect x="209.10" y="144.00" width="14.10" height="1.00" fill="#ebab2c" />
<rect x="209.10" y="145.00" width="14.10" height="6.00" fill="#7474c4" />
<rect x="209.10" y="151.00" width="14.10" height="5.00" fill="#000" />
<rect x="209.10" y="156.00" width="14.10" height="2.00" fill="#e2692a" />
<rect x="209.10" y="158.00" width="14.10" height="1.00" fill="#000" />
<rect x="209.10" y="159.00" width="14.10" height="1.00" fill="#ebab2c" />
<rect x="209.10" y="160.00" width="14.10" height="2.00" fill="#000" />
<rect x="209.10" y="162.00" width="14.10" height="1.00" fill="#ebab2c" />
<rect x="209.10" y="163.00" width="14.10" height="27.00" fill="#000" />
<rect x="209.10" y="190.00" width="14.10" height="2.00" fill="#fff" />
<rect x="209.10" y="192.00" width="14.10" height="2.00" fill="#000" />
<rect x="209.10" y="194.00" width="14.10" height="1.00" fill="#fff" />
<rect x="209.10" y="195.00" width="14.10" height="19.00" fill="#000" />
<rect x="209.10" y="214.00" width="14.10" height="2.00" fill="#ebab2c" />
<rect x="209.10" y="216.00" width="14.10" height="1.00" fill="#000" />
<rect x="209.10" y="217.00" width="14.10" height="1.00" fill="#7474c4" />
<rect x="209.10" y="218.00" width="14.10" height="1.00" fill="#e2692a" />
<rect x="209.10" y="219.00" width="14.10" height="1.00" fill="#000" />
<rect x="209.10" y="220.00" width="14.10" height="2.00" fill="#8a6a1c" />
<rect x="209.10" y="222.00" width="14.10" height="2.00" fill="#000" />
<rect x="209.10" y="224.00" width="14.10" height="4.00" fill="#e2692a" />
<rect x="209.10" y="228.00" width="14.10" height="3.00" fill="#000" />
<rect x="209.10" y="231.00" width="14.10" height="2.00" fill="#fff" />
<rect x="209.10" y="233.00" width="14.10" height="5.00" fill="#40406e" />
<rect x="209.10" y="238.00" width="14.10" height="7.00" fill="#000" />
<rect x="209.10" y="245.00" width="14.10" height="1.00" fill="#fff" />
<rect x="209.10" y="246.00" width="14.10" height="4.00" fill="#000" />
<rect x="209.10" y="250.00" width="14.10" height="4.00" fill="#7474c4" />
<rect x="209.10" y="254.00" width="14.10" height="1.00" fill="#000" />
<rect x="209.10" y="255.00" width="14.10" height="3.00" fill="#5cb848" />
<rect x="209.10" y="258.00" width="14.10" height="2.00" fill="#e2692a" />
<rect x="209.10" y="260.00" width="14.10" height="2.00" fill="#5cb848" />
<rect x="209.10" y="262.00" width="14.10" height="10.00" fill="#e2692a" />
<rect x="209.10" y="272.00" width="14.10" height="2.00" fill="#5cb848" />
<rect x="209.10" y="274.00" width="14.10" height="11.00" fill="#e2692a" />
<rect x="209.10" y="285.00" width="14.10" height="11.00" fill="#5cb848" />
<rect x="209.10" y="296.00" width="14.10" height="3.00" fill="#000" />
<rect x="209.10" y="299.00" width="14.10" height="1.00" fill="#5cb848" />
<rect x="209.10" y="300.00" width="14.10" height="5.00" fill="#7474c4" />
<rect x="209.10" y="305.00" width="14.10" height="4.00" fill="#000" />
<rect x="209.10" y="309.00" width="14.10" height="10.00" fill="#ebab2c" />
<rect x="209.10" y="319.00" width="14.10" height="1.00" fill="#000" />
<rect x="209.10" y="320.00" width="14.10" height="1.00" fill="#ebab2c" />
<rect x="209.10" y="321.00" width="14.10" height="2.00" fill="#000" />
<rect x="209.10" y="323.00" width="14.10" height="1.00" fill="#ebab2c" />
<rect x="209.10" y="324.00" width="14.10" height="2.00" fill="#8a6a1c" />
<rect x="209.10" y="326.00" width="14.10" height="20.00" fill="#ebab2c" />
<rect x="209.10" y="346.00" width="14.10" height="1.00" fill="#f8e8c0" />
<rect x="209.10" y="347.00" width="14.10" height="3.00" fill="#ebab2c" />
<rect x="209.10" y="350.00" width="14.10" height="1.00" fill="#000" />
<rect x="209.10" y="351.00" width="14.10" height="8.00" fill="#ebab2c" />
<rect x="209.10" y="359.00" width="14.10" height="1.00" fill="#3a2a08" />
<rect x="209.10" y="360.00" width="14.10" height="2.00" fill="#ebab2c" />
<rect x="209.10" y="362.00" width="14.10" height="2.00" fill="#f8e8c0" />
<rect x="209.10" y="364.00" width="14.10" height="38.00" fill="#ebab2c" />
<rect x="209.10" y="402.00" width="14.10" height="1.00" fill="#000" />
<rect x="209.10" y="403.00" width="14.10" height="4.00" fill="#e2692a" />
<rect x="209.10" y="407.00" width="14.10" height="1.00" fill="#fff" />
<rect x="209.10" y="408.00" width="14.10" height="3.00" fill="#000" />
<rect x="209.10" y="411.00" width="14.10" height="2.00" fill="#5a2a10" />
<rect x="209.10" y="413.00" width="14.10" height="2.00" fill="#000" />
<rect x="209.10" y="415.00" width="14.10" height="8.00" fill="#e2692a" />
<rect x="209.10" y="423.00" width="14.10" height="2.00" fill="#000" />
<rect x="209.10" y="425.00" width="14.10" height="10.00" fill="#7474c4" />
<rect x="209.10" y="435.00" width="14.10" height="1.00" fill="#000" />
<rect x="209.10" y="436.00" width="14.10" height="12.00" fill="#7474c4" />
<rect x="209.10" y="448.00" width="14.10" height="2.00" fill="#c0c0ec" />
<rect x="209.10" y="450.00" width="14.10" height="4.00" fill="#7474c4" />
<rect x="209.10" y="454.00" width="14.10" height="1.00" fill="#000" />
<rect x="209.10" y="455.00" width="14.10" height="1.00" fill="#fff" />
<rect x="209.10" y="456.00" width="14.10" height="3.00" fill="#7474c4" />
<rect x="209.10" y="459.00" width="14.10" height="1.00" fill="#000" />
<rect x="209.10" y="460.00" width="14.10" height="4.00" fill="#7474c4" />
<rect x="209.10" y="464.00" width="14.10" height="2.00" fill="#000" />
<rect x="209.10" y="466.00" width="14.10" height="4.00" fill="#404070" />
<rect x="209.10" y="470.00" width="14.10" height="1.00" fill="#000" />
<rect x="209.10" y="471.00" width="14.10" height="5.00" fill="#e2692a" />
<rect x="209.10" y="476.00" width="14.10" height="1.00" fill="#7474c4" />
<rect x="209.10" y="477.00" width="14.10" height="3.00" fill="#000" />
<rect x="209.10" y="480.00" width="14.10" height="3.00" fill="#5cb848" />
<rect x="209.10" y="483.00" width="14.10" height="2.00" fill="#000" />
<rect x="209.10" y="485.00" width="14.10" height="14.00" fill="#e2692a" />
<rect x="209.10" y="499.00" width="14.10" height="2.00" fill="#7a3a14" />
<rect x="209.10" y="501.00" width="14.10" height="19.00" fill="#e2692a" />
<rect x="209.10" y="520.00" width="14.10" height="5.00" fill="#000" />
<rect x="209.10" y="525.00" width="14.10" height="1.00" fill="#e2692a" />
<rect x="209.10" y="526.00" width="14.10" height="5.00" fill="#000" />
<rect x="209.10" y="531.00" width="14.10" height="2.00" fill="#7474c4" />
<rect x="209.10" y="533.00" width="14.10" height="5.00" fill="#000" />
<rect x="209.10" y="538.00" width="14.10" height="3.00" fill="#7474c4" />
<rect x="209.10" y="541.00" width="14.10" height="3.00" fill="#000" />
<rect x="209.10" y="544.00" width="14.10" height="1.00" fill="#d0d0f0" />
<rect x="209.10" y="545.00" width="14.10" height="2.00" fill="#000" />
<line x1="0.0" y1="22.6" x2="24.3" y2="22.6" stroke="#6e6e6e" stroke-width="0.9"/>
<line x1="24.3" y1="10.5" x2="24.3" y2="34.4" stroke="#6e6e6e" stroke-width="0.9"/>
<line x1="24.3" y1="10.5" x2="48.2" y2="10.5" stroke="#6e6e6e" stroke-width="0.9"/>
<rect x="48.2" y="9.7" width="25.8" height="1.8" fill="#b4b4b4"/>
<rect x="74.0" y="10.0" width="7.0" height="1.2" fill="#d2d2d2"/>
<line x1="73.8" y1="9.6" x2="73.8" y2="11.6" stroke="#333" stroke-width="0.6"/>
<line x1="24.3" y1="34.4" x2="48.2" y2="34.4" stroke="#6e6e6e" stroke-width="0.9"/>
<line x1="48.2" y1="18.4" x2="48.2" y2="49.5" stroke="#6e6e6e" stroke-width="0.9"/>
<line x1="48.2" y1="18.4" x2="89.1" y2="18.4" stroke="#6e6e6e" stroke-width="0.9"/>
<line x1="89.1" y1="12.7" x2="89.1" y2="23.2" stroke="#6e6e6e" stroke-width="0.9"/>
<line x1="89.1" y1="12.7" x2="101.1" y2="12.7" stroke="#8a8a8a" stroke-width="1.0"/>
<rect x="95.0" y="12.4" width="9.0" height="1.0" fill="#bbb"/>
<line x1="90.2" y1="12.7" x2="90.2" y2="15.8" stroke="#2e2e2e" stroke-width="0.9"/>
<line x1="90.2" y1="15.7" x2="97.5" y2="15.7" stroke="#6e6e6e" stroke-width="0.9"/>
<line x1="97.5" y1="14.6" x2="97.5" y2="16.8" stroke="#2e2e2e" stroke-width="0.9"/>
<rect x="97.5" y="14.7" width="7.5" height="1.0" fill="#aaa"/>
<rect x="97.5" y="16.0" width="5.5" height="1.0" fill="#bbb"/>
<line x1="89.1" y1="23.2" x2="95.3" y2="23.2" stroke="#6e6e6e" stroke-width="0.9"/>
<line x1="95.3" y1="23.2" x2="123.8" y2="23.2" stroke="#7a7a7a" stroke-width="1.0"/>
<line x1="95.3" y1="19.1" x2="95.3" y2="36.5" stroke="#555" stroke-width="0.9"/>
<line x1="95.3" y1="19.1" x2="104.0" y2="19.1" stroke="#aaa" stroke-width="1.0"/>
<rect x="96.0" y="19.8" width="6.0" height="1.0" fill="#c4c4c4"/>
<rect x="95.5" y="22.3" width="11.5" height="2.2" fill="#a4a4a4"/>
<rect x="96.0" y="24.3" width="8.0" height="1.2" fill="#bbb"/>
<rect x="95.5" y="25.9" width="5.0" height="1.2" fill="#b4b4b4"/>
<rect x="95.5" y="27.8" width="5.5" height="1.2" fill="#bdbdbd"/>
<line x1="95.3" y1="31.5" x2="98.5" y2="31.5" stroke="#6e6e6e" stroke-width="0.9"/>
<line x1="98.5" y1="30.3" x2="98.5" y2="32.8" stroke="#2e2e2e" stroke-width="0.9"/>
<rect x="98.5" y="30.7" width="6.3" height="1.0" fill="#aaa"/>
<line x1="98.5" y1="32.3" x2="104.0" y2="32.3" stroke="#999" stroke-width="0.7"/>
<rect x="95.5" y="32.7" width="8.5" height="1.2" fill="#b0b0b0"/>
<rect x="95.5" y="34.1" width="5.5" height="1.0" fill="#c0c0c0"/>
<line x1="95.3" y1="36.5" x2="103.0" y2="36.5" stroke="#6e6e6e" stroke-width="0.9"/>
<line x1="103.0" y1="36.5" x2="103.0" y2="38.8" stroke="#555" stroke-width="0.8"/>
<line x1="103.0" y1="38.8" x2="105.8" y2="38.8" stroke="#6e6e6e" stroke-width="0.9"/>
<rect x="105.8" y="36.8" width="6.1" height="3.8" fill="#9a9b9c"/>
<ellipse cx="107.0" cy="38.7" rx="1.2" ry="1.7" fill="none" stroke="#333" stroke-width="0.8"/>
<text x="112.7" y="40.6" font-size="4.7" fill="#222">2.1.1_Turkey1</text>
<line x1="48.2" y1="49.5" x2="52.3" y2="49.5" stroke="#6e6e6e" stroke-width="0.9"/>
<line x1="52.3" y1="42.3" x2="52.3" y2="57.5" stroke="#6e6e6e" stroke-width="0.9"/>
<line x1="52.3" y1="42.3" x2="84.0" y2="42.3" stroke="#6e6e6e" stroke-width="0.9"/>
<rect x="84.0" y="41.9" width="22.0" height="1.4" fill="#b4b4b4"/>
<rect x="73.0" y="42.1" width="11.0" height="1.0" fill="#d2d2d2"/>
<line x1="52.3" y1="57.5" x2="72.1" y2="57.5" stroke="#6e6e6e" stroke-width="0.9"/>
<line x1="72.1" y1="44.0" x2="72.1" y2="71.5" stroke="#6e6e6e" stroke-width="0.9"/>
<line x1="72.1" y1="44.0" x2="84.5" y2="44.0" stroke="#6e6e6e" stroke-width="0.9"/>
<rect x="84.5" y="43.8" width="22.2" height="2.8" fill="#a8a8a8"/>
<rect x="96.0" y="45.8" width="17.0" height="1.4" fill="#d2d2d2"/>
<line x1="86.0" y1="44.0" x2="86.0" y2="47.0" stroke="#555" stroke-width="0.6"/>
<line x1="72.1" y1="71.5" x2="88.6" y2="71.5" stroke="#6e6e6e" stroke-width="0.9"/>
<line x1="88.6" y1="48.0" x2="88.6" y2="218.0" stroke="#6e6e6e" stroke-width="0.9"/>
<line x1="89.9" y1="75.0" x2="89.9" y2="96.0" stroke="#555" stroke-width="0.8"/>
<line x1="88.6" y1="52.0" x2="95.6" y2="52.0" stroke="#6e6e6e" stroke-width="0.9"/>
<line x1="95.6" y1="50.3" x2="95.6" y2="54.5" stroke="#6e6e6e" stroke-width="0.9"/>
<line x1="95.6" y1="50.3" x2="114.7" y2="50.3" stroke="#6e6e6e" stroke-width="0.9"/>
<circle cx="114.5" cy="50.3" r="1" fill="#555"/>
<line x1="95.6" y1="54.5" x2="99.0" y2="54.5" stroke="#6e6e6e" stroke-width="0.9"/>
<rect x="98.0" y="54.2" width="18.0" height="2.6" fill="#999"/>
<rect x="100.0" y="56.8" width="18.0" height="1.4" fill="#b4b4b4"/>
<line x1="88.6" y1="57.1" x2="148.0" y2="57.1" stroke="#6e6e6e" stroke-width="0.9"/>
<line x1="88.6" y1="61.0" x2="98.0" y2="61.0" stroke="#6e6e6e" stroke-width="0.9"/>
<rect x="98.0" y="60.2" width="20.0" height="2.2" fill="#b0b0b0"/>
<rect x="100.0" y="62.4" width="12.0" height="1.2" fill="#d2d2d2"/>
<line x1="88.6" y1="64.5" x2="96.0" y2="64.5" stroke="#6e6e6e" stroke-width="0.9"/>
<rect x="95.0" y="64.4" width="18.0" height="1.6" fill="#b4b4b4"/>
<line x1="89.0" y1="66.9" x2="100.0" y2="66.9" stroke="#6e6e6e" stroke-width="0.9"/>
<rect x="99.0" y="66.1" width="15.0" height="1.6" fill="#b4b4b4"/>
<line x1="89.0" y1="69.1" x2="95.8" y2="69.1" stroke="#6e6e6e" stroke-width="0.9"/>
<rect x="95.8" y="69.0" width="24.7" height="13.9" fill="#9a9b9c"/>
<line x1="104.1" y1="70.7" x2="105.8" y2="70.7" stroke="#333" stroke-width="0.7200000000000001"/>
<line x1="104.1" y1="72.4" x2="109.4" y2="72.4" stroke="#333" stroke-width="0.7200000000000001"/>
<line x1="104.1" y1="70.7" x2="104.1" y2="72.4" stroke="#333" stroke-width="0.8"/>
<line x1="101.6" y1="71.6" x2="104.1" y2="71.6" stroke="#333" stroke-width="0.8"/>
<line x1="101.6" y1="74.2" x2="109.3" y2="74.2" stroke="#333" stroke-width="0.7200000000000001"/>
<line x1="101.6" y1="71.6" x2="101.6" y2="74.2" stroke="#333" stroke-width="0.8"/>
<line x1="99.5" y1="72.9" x2="101.6" y2="72.9" stroke="#333" stroke-width="0.8"/>
<line x1="100.0" y1="76.0" x2="104.2" y2="76.0" stroke="#333" stroke-width="0.7200000000000001"/>
<line x1="101.0" y1="77.7" x2="106.1" y2="77.7" stroke="#333" stroke-width="0.7200000000000001"/>
<line x1="103.5" y1="79.5" x2="105.5" y2="79.5" stroke="#333" stroke-width="0.7200000000000001"/>
<line x1="103.5" y1="81.2" x2="106.2" y2="81.2" stroke="#333" stroke-width="0.7200000000000001"/>
<line x1="103.5" y1="79.5" x2="103.5" y2="81.2" stroke="#333" stroke-width="0.8"/>
<line x1="101.0" y1="80.3" x2="103.5" y2="80.3" stroke="#333" stroke-width="0.8"/>
<line x1="101.0" y1="77.7" x2="101.0" y2="80.3" stroke="#333" stroke-width="0.8"/>
<line x1="100.0" y1="79.0" x2="101.0" y2="79.0" stroke="#333" stroke-width="0.8"/>
<line x1="100.0" y1="76.0" x2="100.0" y2="79.0" stroke="#333" stroke-width="0.8"/>
<line x1="99.5" y1="77.5" x2="100.0" y2="77.5" stroke="#333" stroke-width="0.8"/>
<line x1="99.5" y1="72.9" x2="99.5" y2="77.5" stroke="#333" stroke-width="0.8"/>
<line x1="96.6" y1="75.2" x2="99.5" y2="75.2" stroke="#333" stroke-width="0.8"/>
<text x="121.7" y="76.9" font-size="4.7" fill="#222">7.1.1_Chile1</text>
<line x1="89.0" y1="86.1" x2="95.5" y2="86.1" stroke="#6e6e6e" stroke-width="0.9"/>
<rect x="95.5" y="83.2" width="68.1" height="18.0" fill="#2d5a27"/>
<line x1="99.9" y1="85.0" x2="105.3" y2="85.0" stroke="#142a10" stroke-width="0.7200000000000001"/>
<line x1="101.6" y1="87.1" x2="104.2" y2="87.1" stroke="#142a10" stroke-width="0.7200000000000001"/>
<line x1="101.6" y1="89.1" x2="103.9" y2="89.1" stroke="#142a10" stroke-width="0.7200000000000001"/>
<line x1="101.6" y1="87.1" x2="101.6" y2="89.1" stroke="#142a10" stroke-width="0.8"/>
<line x1="100.4" y1="88.1" x2="101.6" y2="88.1" stroke="#142a10" stroke-width="0.8"/>
<line x1="103.0" y1="91.2" x2="110.2" y2="91.2" stroke="#142a10" stroke-width="0.7200000000000001"/>
<line x1="103.0" y1="93.2" x2="106.0" y2="93.2" stroke="#142a10" stroke-width="0.7200000000000001"/>
<line x1="103.0" y1="91.2" x2="103.0" y2="93.2" stroke="#142a10" stroke-width="0.8"/>
<line x1="102.3" y1="92.2" x2="103.0" y2="92.2" stroke="#142a10" stroke-width="0.8"/>
<line x1="102.3" y1="95.3" x2="104.4" y2="95.3" stroke="#142a10" stroke-width="0.7200000000000001"/>
<line x1="102.3" y1="92.2" x2="102.3" y2="95.3" stroke="#142a10" stroke-width="0.8"/>
<line x1="100.4" y1="93.7" x2="102.3" y2="93.7" stroke="#142a10" stroke-width="0.8"/>
<line x1="100.4" y1="88.1" x2="100.4" y2="93.7" stroke="#142a10" stroke-width="0.8"/>
<line x1="99.9" y1="90.9" x2="100.4" y2="90.9" stroke="#142a10" stroke-width="0.8"/>
<line x1="99.9" y1="85.0" x2="99.9" y2="90.9" stroke="#142a10" stroke-width="0.8"/>
<line x1="98.0" y1="88.0" x2="99.9" y2="88.0" stroke="#142a10" stroke-width="0.8"/>
<line x1="99.9" y1="97.3" x2="107.7" y2="97.3" stroke="#142a10" stroke-width="0.7200000000000001"/>
<line x1="99.9" y1="99.4" x2="106.3" y2="99.4" stroke="#142a10" stroke-width="0.7200000000000001"/>
<line x1="99.9" y1="97.3" x2="99.9" y2="99.4" stroke="#142a10" stroke-width="0.8"/>
<line x1="98.0" y1="98.3" x2="99.9" y2="98.3" stroke="#142a10" stroke-width="0.8"/>
<line x1="98.0" y1="88.0" x2="98.0" y2="98.3" stroke="#142a10" stroke-width="0.8"/>
<line x1="96.1" y1="93.2" x2="98.0" y2="93.2" stroke="#142a10" stroke-width="0.8"/>
<line x1="100.0" y1="99.5" x2="150.0" y2="99.5" stroke="#142a10" stroke-width="0.6"/>
<text x="111.4" y="93.9" font-size="4.7" fill="#f2f2f2">7.2_EuropeEasternAsia</text>
<line x1="89.9" y1="101.5" x2="94.3" y2="101.5" stroke="#6e6e6e" stroke-width="0.9"/>
<line x1="94.3" y1="101.5" x2="94.3" y2="130.1" stroke="#6e6e6e" stroke-width="0.9"/>
<line x1="89.9" y1="101.6" x2="95.0" y2="101.6" stroke="#6e6e6e" stroke-width="0.9"/>
<rect x="94.0" y="100.8" width="21.0" height="1.6" fill="#b8b8b8"/>
<line x1="94.3" y1="104.6" x2="100.0" y2="104.6" stroke="#6e6e6e" stroke-width="0.9"/>
<rect x="99.0" y="103.8" width="16.0" height="1.6" fill="#bcbcbc"/>
<line x1="94.3" y1="108.6" x2="101.4" y2="108.6" stroke="#6e6e6e" stroke-width="0.9"/>
<line x1="101.4" y1="106.5" x2="101.4" y2="111.0" stroke="#6e6e6e" stroke-width="0.9"/>
<line x1="101.4" y1="106.5" x2="106.0" y2="106.5" stroke="#6e6e6e" stroke-width="0.9"/>
<rect x="104.0" y="105.8" width="11.0" height="1.4" fill="#c4c4c4"/>
<line x1="101.4" y1="111.0" x2="106.8" y2="111.0" stroke="#6e6e6e" stroke-width="0.9"/>
<line x1="106.8" y1="107.5" x2="106.8" y2="120.0" stroke="#555" stroke-width="0.9"/>
<rect x="106.8" y="106.8" width="22.0" height="1.3" fill="#aaaaaa"/>
<rect x="106.8" y="108.8" width="10.0" height="1.3" fill="#b0b0b0"/>
<rect x="106.8" y="110.5" width="27.0" height="1.3" fill="#a8a8a8"/>
<rect x="106.8" y="112.1" width="10.0" height="1.3" fill="#bdbdbd"/>
<rect x="106.8" y="113.6" width="20.0" height="1.3" fill="#aaaaaa"/>
<rect x="106.8" y="115.1" width="12.0" height="1.3" fill="#b5b5b5"/>
<rect x="106.8" y="116.8" width="8.0" height="1.3" fill="#c0c0c0"/>
<rect x="106.8" y="118.3" width="16.0" height="1.3" fill="#aaaaaa"/>
<line x1="94.3" y1="130.1" x2="99.2" y2="130.1" stroke="#6e6e6e" stroke-width="0.9"/>
<line x1="99.2" y1="124.1" x2="99.2" y2="135.5" stroke="#6e6e6e" stroke-width="0.9"/>
<line x1="99.2" y1="124.1" x2="105.3" y2="124.1" stroke="#6e6e6e" stroke-width="0.9"/>
<rect x="105.3" y="121.3" width="13.1" height="11.4" fill="#9a9b9c"/>
<line x1="110.4" y1="122.9" x2="113.9" y2="122.9" stroke="#2e2e2e" stroke-width="0.7200000000000001"/>
<line x1="110.4" y1="124.5" x2="112.3" y2="124.5" stroke="#2e2e2e" stroke-width="0.7200000000000001"/>
<line x1="110.4" y1="122.9" x2="110.4" y2="124.5" stroke="#2e2e2e" stroke-width="0.8"/>
<line x1="108.9" y1="123.7" x2="110.4" y2="123.7" stroke="#2e2e2e" stroke-width="0.8"/>
<line x1="108.9" y1="126.2" x2="112.0" y2="126.2" stroke="#2e2e2e" stroke-width="0.7200000000000001"/>
<line x1="108.9" y1="123.7" x2="108.9" y2="126.2" stroke="#2e2e2e" stroke-width="0.8"/>
<line x1="108.0" y1="125.0" x2="108.9" y2="125.0" stroke="#2e2e2e" stroke-width="0.8"/>
<line x1="109.6" y1="127.8" x2="113.3" y2="127.8" stroke="#2e2e2e" stroke-width="0.7200000000000001"/>
<line x1="109.6" y1="129.4" x2="111.7" y2="129.4" stroke="#2e2e2e" stroke-width="0.7200000000000001"/>
<line x1="109.6" y1="127.8" x2="109.6" y2="129.4" stroke="#2e2e2e" stroke-width="0.8"/>
<line x1="108.0" y1="128.6" x2="109.6" y2="128.6" stroke="#2e2e2e" stroke-width="0.8"/>
<line x1="108.0" y1="125.0" x2="108.0" y2="128.6" stroke="#2e2e2e" stroke-width="0.8"/>
<line x1="106.9" y1="126.8" x2="108.0" y2="126.8" stroke="#2e2e2e" stroke-width="0.8"/>
<line x1="106.9" y1="131.1" x2="111.4" y2="131.1" stroke="#2e2e2e" stroke-width="0.7200000000000001"/>
<line x1="106.9" y1="126.8" x2="106.9" y2="131.1" stroke="#2e2e2e" stroke-width="0.8"/>
<line x1="105.9" y1="128.9" x2="106.9" y2="128.9" stroke="#2e2e2e" stroke-width="0.8"/>
<text x="119.7" y="127.9" font-size="4.7" fill="#222">7.3.1_NorthAfrica1</text>
<line x1="99.2" y1="135.5" x2="107.4" y2="135.5" stroke="#6e6e6e" stroke-width="0.9"/>
<rect x="107.0" y="134.8" width="15.8" height="15.8" fill="#9a9b9c"/>
<line x1="108.9" y1="136.6" x2="110.7" y2="136.6" stroke="#2e2e2e" stroke-width="0.7200000000000001"/>
<line x1="112.6" y1="138.6" x2="116.1" y2="138.6" stroke="#2e2e2e" stroke-width="0.7200000000000001"/>
<line x1="112.6" y1="140.7" x2="117.5" y2="140.7" stroke="#2e2e2e" stroke-width="0.7200000000000001"/>
<line x1="112.6" y1="138.6" x2="112.6" y2="140.7" stroke="#2e2e2e" stroke-width="0.8"/>
<line x1="110.8" y1="139.7" x2="112.6" y2="139.7" stroke="#2e2e2e" stroke-width="0.8"/>
<line x1="110.8" y1="142.7" x2="113.2" y2="142.7" stroke="#2e2e2e" stroke-width="0.7200000000000001"/>
<line x1="110.8" y1="139.7" x2="110.8" y2="142.7" stroke="#2e2e2e" stroke-width="0.8"/>
<line x1="109.6" y1="141.2" x2="110.8" y2="141.2" stroke="#2e2e2e" stroke-width="0.8"/>
<line x1="111.6" y1="144.7" x2="113.0" y2="144.7" stroke="#2e2e2e" stroke-width="0.7200000000000001"/>
<line x1="111.6" y1="146.8" x2="113.8" y2="146.8" stroke="#2e2e2e" stroke-width="0.7200000000000001"/>
<line x1="111.6" y1="144.7" x2="111.6" y2="146.8" stroke="#2e2e2e" stroke-width="0.8"/>
<line x1="111.1" y1="145.7" x2="111.6" y2="145.7" stroke="#2e2e2e" stroke-width="0.8"/>
<line x1="111.1" y1="148.8" x2="115.2" y2="148.8" stroke="#2e2e2e" stroke-width="0.7200000000000001"/>
<line x1="111.1" y1="145.7" x2="111.1" y2="148.8" stroke="#2e2e2e" stroke-width="0.8"/>
<line x1="109.6" y1="147.3" x2="111.1" y2="147.3" stroke="#2e2e2e" stroke-width="0.8"/>
<line x1="109.6" y1="141.2" x2="109.6" y2="147.3" stroke="#2e2e2e" stroke-width="0.8"/>
<line x1="108.9" y1="144.2" x2="109.6" y2="144.2" stroke="#2e2e2e" stroke-width="0.8"/>
<line x1="108.9" y1="136.6" x2="108.9" y2="144.2" stroke="#2e2e2e" stroke-width="0.8"/>
<line x1="107.6" y1="140.4" x2="108.9" y2="140.4" stroke="#2e2e2e" stroke-width="0.8"/>
<text x="124.1" y="145.0" font-size="4.7" fill="#222">7.3.2_BACR</text>
<line x1="89.9" y1="152.2" x2="104.0" y2="152.2" stroke="#999" stroke-width="0.8"/>
<line x1="88.6" y1="154.0" x2="91.8" y2="154.0" stroke="#6e6e6e" stroke-width="0.9"/>
<line x1="91.8" y1="154.0" x2="91.8" y2="158.0" stroke="#6e6e6e" stroke-width="0.9"/>
<line x1="91.8" y1="155.0" x2="99.0" y2="155.0" stroke="#6e6e6e" stroke-width="0.9"/>
<rect x="98.0" y="154.4" width="15.0" height="1.6" fill="#b4b4b4"/>
<line x1="91.8" y1="156.6" x2="97.0" y2="156.6" stroke="#6e6e6e" stroke-width="0.9"/>
<rect x="96.0" y="156.1" width="22.0" height="1.4" fill="#bdbdbd"/>
<line x1="91.8" y1="158.0" x2="94.5" y2="158.0" stroke="#6e6e6e" stroke-width="0.9"/>
<line x1="94.5" y1="158.0" x2="94.5" y2="162.0" stroke="#6e6e6e" stroke-width="0.9"/>
<line x1="94.5" y1="159.2" x2="100.0" y2="159.2" stroke="#6e6e6e" stroke-width="0.9"/>
<rect x="99.0" y="158.6" width="17.0" height="1.6" fill="#b8b8b8"/>
<line x1="94.5" y1="160.6" x2="99.0" y2="160.6" stroke="#6e6e6e" stroke-width="0.9"/>
<rect x="98.0" y="160.2" width="12.0" height="1.2" fill="#d2d2d2"/>
<line x1="94.5" y1="162.0" x2="97.5" y2="162.0" stroke="#6e6e6e" stroke-width="0.9"/>
<line x1="97.5" y1="162.0" x2="97.5" y2="166.5" stroke="#6e6e6e" stroke-width="0.9"/>
<line x1="97.5" y1="163.4" x2="103.0" y2="163.4" stroke="#6e6e6e" stroke-width="0.9"/>
<rect x="102.0" y="162.9" width="10.0" height="1.4" fill="#b4b4b4"/>
<line x1="97.5" y1="166.5" x2="105.6" y2="166.5" stroke="#6e6e6e" stroke-width="0.9"/>
<rect x="105.6" y="165.6" width="54.4" height="48.2" fill="#f0843c"/>
<line x1="106.4" y1="166.5" x2="106.4" y2="212.5" stroke="#6a3008" stroke-width="1.3"/>
<line x1="106.6" y1="167.0" x2="111.6" y2="167.0" stroke="#7a3a10" stroke-width="0.8"/>
<line x1="106.6" y1="168.8" x2="110.6" y2="168.8" stroke="#7a3a10" stroke-width="0.8"/>
<line x1="106.6" y1="170.6" x2="109.6" y2="170.6" stroke="#7a3a10" stroke-width="0.8"/>
<line x1="106.6" y1="172.3" x2="114.6" y2="172.3" stroke="#7a3a10" stroke-width="0.8"/>
<line x1="106.6" y1="174.1" x2="109.6" y2="174.1" stroke="#7a3a10" stroke-width="0.8"/>
<line x1="106.6" y1="175.9" x2="108.6" y2="175.9" stroke="#7a3a10" stroke-width="0.8"/>
<line x1="106.6" y1="177.7" x2="114.6" y2="177.7" stroke="#7a3a10" stroke-width="0.8"/>
<line x1="106.6" y1="179.5" x2="112.6" y2="179.5" stroke="#7a3a10" stroke-width="0.8"/>
<line x1="106.6" y1="181.2" x2="111.6" y2="181.2" stroke="#7a3a10" stroke-width="0.8"/>
<line x1="106.6" y1="183.0" x2="111.6" y2="183.0" stroke="#7a3a10" stroke-width="0.8"/>
<line x1="106.6" y1="184.8" x2="114.6" y2="184.8" stroke="#7a3a10" stroke-width="0.8"/>
<line x1="106.6" y1="186.6" x2="114.6" y2="186.6" stroke="#7a3a10" stroke-width="0.8"/>
<line x1="106.6" y1="188.4" x2="110.6" y2="188.4" stroke="#7a3a10" stroke-width="0.8"/>
<line x1="106.6" y1="190.1" x2="110.6" y2="190.1" stroke="#7a3a10" stroke-width="0.8"/>
<line x1="106.6" y1="191.9" x2="111.6" y2="191.9" stroke="#7a3a10" stroke-width="0.8"/>
<line x1="106.6" y1="193.7" x2="110.6" y2="193.7" stroke="#7a3a10" stroke-width="0.8"/>
<line x1="106.6" y1="195.5" x2="110.6" y2="195.5" stroke="#7a3a10" stroke-width="0.8"/>
<line x1="106.6" y1="197.3" x2="108.6" y2="197.3" stroke="#7a3a10" stroke-width="0.8"/>
<line x1="106.6" y1="199.0" x2="109.6" y2="199.0" stroke="#7a3a10" stroke-width="0.8"/>
<line x1="106.6" y1="200.8" x2="110.6" y2="200.8" stroke="#7a3a10" stroke-width="0.8"/>
<line x1="106.6" y1="202.6" x2="108.6" y2="202.6" stroke="#7a3a10" stroke-width="0.8"/>
<line x1="106.6" y1="204.4" x2="112.6" y2="204.4" stroke="#7a3a10" stroke-width="0.8"/>
<line x1="106.6" y1="206.2" x2="108.6" y2="206.2" stroke="#7a3a10" stroke-width="0.8"/>
<line x1="106.6" y1="207.9" x2="112.6" y2="207.9" stroke="#7a3a10" stroke-width="0.8"/>
<line x1="106.6" y1="209.7" x2="114.6" y2="209.7" stroke="#7a3a10" stroke-width="0.8"/>
<line x1="106.6" y1="211.5" x2="110.6" y2="211.5" stroke="#7a3a10" stroke-width="0.8"/>
<line x1="106.6" y1="168.2" x2="158.0" y2="168.2" stroke="#5a2a08" stroke-width="0.6"/>
<line x1="106.6" y1="172.3" x2="120.0" y2="172.3" stroke="#7a3a10" stroke-width="0.6"/>
<line x1="106.6" y1="178.2" x2="132.0" y2="178.2" stroke="#7a3a10" stroke-width="0.6"/>
<line x1="106.6" y1="189.0" x2="124.0" y2="189.0" stroke="#7a3a10" stroke-width="0.6"/>
<line x1="106.6" y1="190.5" x2="123.0" y2="190.5" stroke="#7a3a10" stroke-width="0.6"/>
<line x1="106.6" y1="192.0" x2="116.0" y2="192.0" stroke="#7a3a10" stroke-width="0.6"/>
<line x1="106.6" y1="200.0" x2="116.0" y2="200.0" stroke="#7a3a10" stroke-width="0.6"/>
<text x="135.9" y="192.8" font-size="4.7" fill="#222">9.1_France</text>
<line x1="90.2" y1="217.6" x2="92.7" y2="217.6" stroke="#6e6e6e" stroke-width="0.9"/>
<line x1="92.7" y1="214.8" x2="92.7" y2="222.0" stroke="#6e6e6e" stroke-width="0.9"/>
<line x1="92.7" y1="214.8" x2="105.0" y2="214.8" stroke="#6e6e6e" stroke-width="0.9"/>
<rect x="100.0" y="214.4" width="12.0" height="1.2" fill="#b4b4b4"/>
<line x1="92.7" y1="216.5" x2="100.0" y2="216.5" stroke="#6e6e6e" stroke-width="0.9"/>
<line x1="99.0" y1="219.7" x2="163.8" y2="219.7" stroke="#888" stroke-width="0.8"/>
<line x1="153.0" y1="221.5" x2="156.0" y2="218.0" stroke="#555" stroke-width="0.6"/>
<line x1="154.5" y1="221.5" x2="157.5" y2="218.0" stroke="#555" stroke-width="0.6"/>
<line x1="92.7" y1="222.0" x2="98.4" y2="222.0" stroke="#6e6e6e" stroke-width="0.9"/>
<line x1="98.4" y1="217.0" x2="98.4" y2="254.0" stroke="#6e6e6e" stroke-width="0.9"/>
<line x1="98.4" y1="218.5" x2="110.0" y2="218.5" stroke="#b4b4b4" stroke-width="1"/>
<line x1="98.4" y1="221.0" x2="104.0" y2="221.0" stroke="#6e6e6e" stroke-width="0.9"/>
<line x1="104.0" y1="223.0" x2="104.0" y2="230.0" stroke="#6e6e6e" stroke-width="0.9"/>
<line x1="104.0" y1="223.5" x2="112.0" y2="223.5" stroke="#999" stroke-width="0.8"/>
<line x1="104.0" y1="229.5" x2="108.6" y2="229.5" stroke="#6e6e6e" stroke-width="0.9"/>
<rect x="108.6" y="226.8" width="5.4" height="6.1" fill="#1cb0e8"/>
<line x1="109.7" y1="228.7" x2="111.5" y2="228.7" stroke="#123" stroke-width="0.7200000000000001"/>
<line x1="109.7" y1="231.0" x2="111.1" y2="231.0" stroke="#123" stroke-width="0.7200000000000001"/>
<line x1="109.7" y1="228.7" x2="109.7" y2="231.0" stroke="#123" stroke-width="0.8"/>
<line x1="109.2" y1="229.9" x2="109.7" y2="229.9" stroke="#123" stroke-width="0.8"/>
<text x="114.6" y="231.0" font-size="4.7" fill="#222">10.1.1_Europe</text>
<line x1="98.4" y1="233.1" x2="104.0" y2="233.1" stroke="#6e6e6e" stroke-width="0.9"/>
<line x1="104.0" y1="233.1" x2="133.6" y2="233.1" stroke="#888" stroke-width="0.8"/>
<line x1="104.0" y1="233.1" x2="104.0" y2="252.0" stroke="#6e6e6e" stroke-width="0.9"/>
<line x1="104.0" y1="235.0" x2="112.0" y2="235.0" stroke="#7a7a7a" stroke-width="0.7"/>
<line x1="104.0" y1="236.5" x2="109.0" y2="236.5" stroke="#7a7a7a" stroke-width="0.7"/>
<line x1="104.0" y1="238.0" x2="110.0" y2="238.0" stroke="#7a7a7a" stroke-width="0.7"/>
<line x1="104.0" y1="240.0" x2="106.0" y2="240.0" stroke="#7a7a7a" stroke-width="0.7"/>
<line x1="104.0" y1="241.5" x2="108.0" y2="241.5" stroke="#7a7a7a" stroke-width="0.7"/>
<line x1="104.0" y1="243.0" x2="111.0" y2="243.0" stroke="#7a7a7a" stroke-width="0.7"/>
<line x1="104.0" y1="245.0" x2="113.0" y2="245.0" stroke="#7a7a7a" stroke-width="0.7"/>
<line x1="104.0" y1="247.0" x2="120.8" y2="247.0" stroke="#7a7a7a" stroke-width="0.7"/>
<line x1="104.0" y1="249.0" x2="112.0" y2="249.0" stroke="#7a7a7a" stroke-width="0.7"/>
<line x1="104.0" y1="250.5" x2="110.0" y2="250.5" stroke="#7a7a7a" stroke-width="0.7"/>
<line x1="104.0" y1="252.0" x2="108.0" y2="252.0" stroke="#7a7a7a" stroke-width="0.7"/>
<line x1="106.5" y1="236.0" x2="106.5" y2="244.0" stroke="#666" stroke-width="0.6"/>
<line x1="108.0" y1="244.0" x2="108.0" y2="252.0" stroke="#666" stroke-width="0.6"/>
<line x1="110.0" y1="238.0" x2="110.0" y2="242.0" stroke="#666" stroke-width="0.6"/>
<line x1="109.0" y1="247.0" x2="109.0" y2="251.0" stroke="#666" stroke-width="0.6"/>
<line x1="94.6" y1="218.0" x2="94.6" y2="228.0" stroke="#6e6e6e" stroke-width="0.9"/>
<line x1="94.6" y1="228.0" x2="99.0" y2="228.0" stroke="#6e6e6e" stroke-width="0.9"/>
<line x1="98.4" y1="254.0" x2="101.9" y2="254.0" stroke="#6e6e6e" stroke-width="0.9"/>
<line x1="101.9" y1="254.0" x2="101.9" y2="529.0" stroke="#6e6e6e" stroke-width="0.9"/>
<line x1="101.9" y1="255.8" x2="104.2" y2="255.8" stroke="#6e6e6e" stroke-width="0.9"/>
<rect x="104.2" y="256.0" width="14.5" height="15.7" fill="#1f4c9e"/>
<line x1="107.1" y1="257.8" x2="110.1" y2="257.8" stroke="#0c1a40" stroke-width="0.7200000000000001"/>
<line x1="107.1" y1="259.8" x2="109.1" y2="259.8" stroke="#0c1a40" stroke-width="0.7200000000000001"/>
<line x1="107.1" y1="257.8" x2="107.1" y2="259.8" stroke="#0c1a40" stroke-width="0.8"/>
<line x1="106.6" y1="258.8" x2="107.1" y2="258.8" stroke="#0c1a40" stroke-width="0.8"/>
<line x1="110.7" y1="261.8" x2="113.9" y2="261.8" stroke="#0c1a40" stroke-width="0.7200000000000001"/>
<line x1="110.7" y1="263.9" x2="113.4" y2="263.9" stroke="#0c1a40" stroke-width="0.7200000000000001"/>
<line x1="110.7" y1="261.8" x2="110.7" y2="263.9" stroke="#0c1a40" stroke-width="0.8"/>
<line x1="109.4" y1="262.8" x2="110.7" y2="262.8" stroke="#0c1a40" stroke-width="0.8"/>
<line x1="111.3" y1="265.9" x2="115.0" y2="265.9" stroke="#0c1a40" stroke-width="0.7200000000000001"/>
<line x1="111.3" y1="267.9" x2="116.0" y2="267.9" stroke="#0c1a40" stroke-width="0.7200000000000001"/>
<line x1="111.3" y1="265.9" x2="111.3" y2="267.9" stroke="#0c1a40" stroke-width="0.8"/>
<line x1="109.4" y1="266.9" x2="111.3" y2="266.9" stroke="#0c1a40" stroke-width="0.8"/>
<line x1="109.4" y1="262.8" x2="109.4" y2="266.9" stroke="#0c1a40" stroke-width="0.8"/>
<line x1="108.3" y1="264.9" x2="109.4" y2="264.9" stroke="#0c1a40" stroke-width="0.8"/>
<line x1="108.3" y1="269.9" x2="112.8" y2="269.9" stroke="#0c1a40" stroke-width="0.7200000000000001"/>
<line x1="108.3" y1="264.9" x2="108.3" y2="269.9" stroke="#0c1a40" stroke-width="0.8"/>
<line x1="106.6" y1="267.4" x2="108.3" y2="267.4" stroke="#0c1a40" stroke-width="0.8"/>
<line x1="106.6" y1="258.8" x2="106.6" y2="267.4" stroke="#0c1a40" stroke-width="0.8"/>
<line x1="104.8" y1="263.1" x2="106.6" y2="263.1" stroke="#0c1a40" stroke-width="0.8"/>
<text x="119.5" y="264.8" font-size="4.7" fill="#222">10.3.2_MiddleEast1</text>
<line x1="101.9" y1="272.5" x2="108.3" y2="272.5" stroke="#6e6e6e" stroke-width="0.9"/>
<line x1="104.5" y1="272.5" x2="104.5" y2="288.4" stroke="#888" stroke-width="0.7"/>
<rect x="108.3" y="274.2" width="11.4" height="9.3" fill="#9a9b9c"/>
<line x1="111.7" y1="275.8" x2="115.4" y2="275.8" stroke="#2e2e2e" stroke-width="0.7200000000000001"/>
<line x1="111.7" y1="277.3" x2="114.4" y2="277.3" stroke="#2e2e2e" stroke-width="0.7200000000000001"/>
<line x1="111.7" y1="275.8" x2="111.7" y2="277.3" stroke="#2e2e2e" stroke-width="0.8"/>
<line x1="110.1" y1="276.5" x2="111.7" y2="276.5" stroke="#2e2e2e" stroke-width="0.8"/>
<line x1="111.3" y1="278.9" x2="115.2" y2="278.9" stroke="#2e2e2e" stroke-width="0.7200000000000001"/>
<line x1="112.0" y1="280.4" x2="113.2" y2="280.4" stroke="#2e2e2e" stroke-width="0.7200000000000001"/>
<line x1="112.0" y1="281.9" x2="115.6" y2="281.9" stroke="#2e2e2e" stroke-width="0.7200000000000001"/>
<line x1="112.0" y1="280.4" x2="112.0" y2="281.9" stroke="#2e2e2e" stroke-width="0.8"/>
<line x1="111.3" y1="281.2" x2="112.0" y2="281.2" stroke="#2e2e2e" stroke-width="0.8"/>
<line x1="111.3" y1="278.9" x2="111.3" y2="281.2" stroke="#2e2e2e" stroke-width="0.8"/>
<line x1="110.1" y1="280.0" x2="111.3" y2="280.0" stroke="#2e2e2e" stroke-width="0.8"/>
<line x1="110.1" y1="276.5" x2="110.1" y2="280.0" stroke="#2e2e2e" stroke-width="0.8"/>
<line x1="108.9" y1="278.3" x2="110.1" y2="278.3" stroke="#2e2e2e" stroke-width="0.8"/>
<text x="122.1" y="280.6" font-size="4.7" fill="#222">10.3.3_Turkey2</text>
<line x1="101.9" y1="288.4" x2="106.1" y2="288.4" stroke="#6e6e6e" stroke-width="0.9"/>
<rect x="106.1" y="284.3" width="12.6" height="12.3" fill="#fbd36e"/>
<line x1="108.2" y1="286.0" x2="109.7" y2="286.0" stroke="#3a2a00" stroke-width="0.7200000000000001"/>
<line x1="110.8" y1="287.8" x2="111.9" y2="287.8" stroke="#3a2a00" stroke-width="0.7200000000000001"/>
<line x1="110.8" y1="289.6" x2="113.8" y2="289.6" stroke="#3a2a00" stroke-width="0.7200000000000001"/>
<line x1="110.8" y1="287.8" x2="110.8" y2="289.6" stroke="#3a2a00" stroke-width="0.8"/>
<line x1="109.2" y1="288.7" x2="110.8" y2="288.7" stroke="#3a2a00" stroke-width="0.8"/>
<line x1="109.2" y1="291.3" x2="110.3" y2="291.3" stroke="#3a2a00" stroke-width="0.7200000000000001"/>
<line x1="109.2" y1="288.7" x2="109.2" y2="291.3" stroke="#3a2a00" stroke-width="0.8"/>
<line x1="108.2" y1="290.0" x2="109.2" y2="290.0" stroke="#3a2a00" stroke-width="0.8"/>
<line x1="108.2" y1="286.0" x2="108.2" y2="290.0" stroke="#3a2a00" stroke-width="0.8"/>
<line x1="107.2" y1="288.0" x2="108.2" y2="288.0" stroke="#3a2a00" stroke-width="0.8"/>
<line x1="108.4" y1="293.1" x2="112.5" y2="293.1" stroke="#3a2a00" stroke-width="0.7200000000000001"/>
<line x1="108.4" y1="294.9" x2="110.3" y2="294.9" stroke="#3a2a00" stroke-width="0.7200000000000001"/>
<line x1="108.4" y1="293.1" x2="108.4" y2="294.9" stroke="#3a2a00" stroke-width="0.8"/>
<line x1="107.2" y1="294.0" x2="108.4" y2="294.0" stroke="#3a2a00" stroke-width="0.8"/>
<line x1="107.2" y1="288.0" x2="107.2" y2="294.0" stroke="#3a2a00" stroke-width="0.8"/>
<line x1="106.7" y1="291.0" x2="107.2" y2="291.0" stroke="#3a2a00" stroke-width="0.8"/>
<text x="120.0" y="292.1" font-size="4.7" fill="#222">10.3.1_SouthAsia1</text>
<line x1="101.9" y1="297.8" x2="109.1" y2="297.8" stroke="#6e6e6e" stroke-width="0.9"/>
<line x1="104.0" y1="299.5" x2="109.0" y2="299.5" stroke="#999" stroke-width="0.8"/>
<rect x="109.1" y="299.5" width="10.1" height="7.2" fill="#9a9b9c"/>
<line x1="111.1" y1="301.0" x2="112.9" y2="301.0" stroke="#2e2e2e" stroke-width="0.7200000000000001"/>
<line x1="111.6" y1="302.4" x2="114.0" y2="302.4" stroke="#2e2e2e" stroke-width="0.7200000000000001"/>
<line x1="113.0" y1="303.8" x2="114.7" y2="303.8" stroke="#2e2e2e" stroke-width="0.7200000000000001"/>
<line x1="113.0" y1="305.2" x2="114.7" y2="305.2" stroke="#2e2e2e" stroke-width="0.7200000000000001"/>
<line x1="113.0" y1="303.8" x2="113.0" y2="305.2" stroke="#2e2e2e" stroke-width="0.8"/>
<line x1="111.6" y1="304.5" x2="113.0" y2="304.5" stroke="#2e2e2e" stroke-width="0.8"/>
<line x1="111.6" y1="302.4" x2="111.6" y2="304.5" stroke="#2e2e2e" stroke-width="0.8"/>
<line x1="111.1" y1="303.5" x2="111.6" y2="303.5" stroke="#2e2e2e" stroke-width="0.8"/>
<line x1="111.1" y1="301.0" x2="111.1" y2="303.5" stroke="#2e2e2e" stroke-width="0.8"/>
<line x1="109.7" y1="302.2" x2="111.1" y2="302.2" stroke="#2e2e2e" stroke-width="0.8"/>
<text x="120.5" y="304.7" font-size="4.7" fill="#222">10.3.9_NorthAfrica3</text>
<line x1="101.9" y1="307.2" x2="106.1" y2="307.2" stroke="#6e6e6e" stroke-width="0.9"/>
<rect x="106.1" y="308.3" width="8.2" height="9.5" fill="#9a9b9c"/>
<line x1="108.8" y1="310.1" x2="110.5" y2="310.1" stroke="#2e2e2e" stroke-width="0.7200000000000001"/>
<line x1="108.8" y1="312.1" x2="110.7" y2="312.1" stroke="#2e2e2e" stroke-width="0.7200000000000001"/>
<line x1="108.8" y1="310.1" x2="108.8" y2="312.1" stroke="#2e2e2e" stroke-width="0.8"/>
<line x1="107.8" y1="311.1" x2="108.8" y2="311.1" stroke="#2e2e2e" stroke-width="0.8"/>
<line x1="107.8" y1="314.0" x2="109.7" y2="314.0" stroke="#2e2e2e" stroke-width="0.7200000000000001"/>
<line x1="107.8" y1="311.1" x2="107.8" y2="314.0" stroke="#2e2e2e" stroke-width="0.8"/>
<line x1="107.1" y1="312.6" x2="107.8" y2="312.6" stroke="#2e2e2e" stroke-width="0.8"/>
<line x1="107.1" y1="316.0" x2="109.3" y2="316.0" stroke="#2e2e2e" stroke-width="0.7200000000000001"/>
<line x1="107.1" y1="312.6" x2="107.1" y2="316.0" stroke="#2e2e2e" stroke-width="0.8"/>
<line x1="106.7" y1="314.3" x2="107.1" y2="314.3" stroke="#2e2e2e" stroke-width="0.8"/>
<text x="115.6" y="315.7" font-size="4.7" fill="#222">10.3.4_Chile2</text>
<line x1="101.9" y1="319.5" x2="108.0" y2="319.5" stroke="#999" stroke-width="0.8"/>
<rect x="103.0" y="319.7" width="7.0" height="1.2" fill="#b4b4b4"/>
<line x1="101.9" y1="321.0" x2="104.0" y2="321.0" stroke="#6e6e6e" stroke-width="0.9"/>
<rect x="104.0" y="322.3" width="14.4" height="79.6" fill="#ee302e"/>
<line x1="105.2" y1="323.0" x2="105.2" y2="370.0" stroke="#3a0a0a" stroke-width="0.7"/>
<line x1="105.2" y1="324.0" x2="110.2" y2="324.0" stroke="#3a0a0a" stroke-width="0.6"/>
<line x1="105.2" y1="325.6" x2="107.2" y2="325.6" stroke="#3a0a0a" stroke-width="0.6"/>
<line x1="105.2" y1="327.2" x2="110.2" y2="327.2" stroke="#3a0a0a" stroke-width="0.6"/>
<line x1="105.2" y1="328.8" x2="110.2" y2="328.8" stroke="#3a0a0a" stroke-width="0.6"/>
<line x1="105.2" y1="330.4" x2="107.2" y2="330.4" stroke="#3a0a0a" stroke-width="0.6"/>
<line x1="105.2" y1="332.0" x2="107.2" y2="332.0" stroke="#3a0a0a" stroke-width="0.6"/>
<line x1="105.2" y1="333.6" x2="107.7" y2="333.6" stroke="#3a0a0a" stroke-width="0.6"/>
<line x1="105.2" y1="335.2" x2="107.7" y2="335.2" stroke="#3a0a0a" stroke-width="0.6"/>
<line x1="105.2" y1="336.8" x2="107.2" y2="336.8" stroke="#3a0a0a" stroke-width="0.6"/>
<line x1="105.2" y1="338.4" x2="110.2" y2="338.4" stroke="#3a0a0a" stroke-width="0.6"/>
<line x1="105.2" y1="340.0" x2="109.2" y2="340.0" stroke="#3a0a0a" stroke-width="0.6"/>
<line x1="105.2" y1="341.6" x2="107.2" y2="341.6" stroke="#3a0a0a" stroke-width="0.6"/>
<line x1="105.2" y1="343.2" x2="107.7" y2="343.2" stroke="#3a0a0a" stroke-width="0.6"/>
<line x1="105.2" y1="344.8" x2="106.7" y2="344.8" stroke="#3a0a0a" stroke-width="0.6"/>
<line x1="105.2" y1="346.4" x2="110.2" y2="346.4" stroke="#3a0a0a" stroke-width="0.6"/>
<line x1="105.2" y1="348.0" x2="108.7" y2="348.0" stroke="#3a0a0a" stroke-width="0.6"/>
<line x1="105.2" y1="349.6" x2="107.7" y2="349.6" stroke="#3a0a0a" stroke-width="0.6"/>
<line x1="105.2" y1="351.2" x2="106.7" y2="351.2" stroke="#3a0a0a" stroke-width="0.6"/>
<line x1="105.2" y1="352.8" x2="107.2" y2="352.8" stroke="#3a0a0a" stroke-width="0.6"/>
<line x1="105.2" y1="354.4" x2="109.2" y2="354.4" stroke="#3a0a0a" stroke-width="0.6"/>
<line x1="105.2" y1="356.0" x2="109.2" y2="356.0" stroke="#3a0a0a" stroke-width="0.6"/>
<line x1="105.2" y1="357.6" x2="106.7" y2="357.6" stroke="#3a0a0a" stroke-width="0.6"/>
<line x1="105.2" y1="359.2" x2="107.2" y2="359.2" stroke="#3a0a0a" stroke-width="0.6"/>
<line x1="105.2" y1="360.8" x2="110.2" y2="360.8" stroke="#3a0a0a" stroke-width="0.6"/>
<line x1="105.2" y1="362.4" x2="110.2" y2="362.4" stroke="#3a0a0a" stroke-width="0.6"/>
<line x1="105.2" y1="364.0" x2="109.2" y2="364.0" stroke="#3a0a0a" stroke-width="0.6"/>
<line x1="105.2" y1="365.6" x2="109.2" y2="365.6" stroke="#3a0a0a" stroke-width="0.6"/>
<line x1="105.2" y1="367.2" x2="107.2" y2="367.2" stroke="#3a0a0a" stroke-width="0.6"/>
<line x1="105.2" y1="368.8" x2="109.2" y2="368.8" stroke="#3a0a0a" stroke-width="0.6"/>
<line x1="105.2" y1="370.4" x2="107.7" y2="370.4" stroke="#3a0a0a" stroke-width="0.6"/>
<line x1="107.5" y1="330.0" x2="107.5" y2="352.0" stroke="#3a0a0a" stroke-width="0.6"/>
<line x1="110.0" y1="340.0" x2="110.0" y2="352.0" stroke="#3a0a0a" stroke-width="0.6"/>
<line x1="105.2" y1="353.0" x2="115.0" y2="353.0" stroke="#3a0a0a" stroke-width="0.6"/>
<line x1="115.0" y1="351.0" x2="115.0" y2="356.0" stroke="#3a0a0a" stroke-width="0.6"/>
<line x1="105.2" y1="360.0" x2="108.0" y2="360.0" stroke="#3a0a0a" stroke-width="0.6"/>
<line x1="108.0" y1="358.0" x2="108.0" y2="372.0" stroke="#3a0a0a" stroke-width="0.6"/>
<line x1="108.0" y1="364.0" x2="112.0" y2="364.0" stroke="#3a0a0a" stroke-width="0.6"/>
<line x1="110.0" y1="372.0" x2="110.0" y2="395.0" stroke="#3a0a0a" stroke-width="0.6"/>
<line x1="105.2" y1="372.0" x2="110.0" y2="372.0" stroke="#3a0a0a" stroke-width="0.6"/>
<line x1="110.0" y1="374.0" x2="113.0" y2="374.0" stroke="#3a0a0a" stroke-width="0.6"/>
<line x1="110.0" y1="375.9" x2="111.0" y2="375.9" stroke="#3a0a0a" stroke-width="0.6"/>
<line x1="110.0" y1="377.8" x2="113.0" y2="377.8" stroke="#3a0a0a" stroke-width="0.6"/>
<line x1="110.0" y1="379.7" x2="111.0" y2="379.7" stroke="#3a0a0a" stroke-width="0.6"/>
<line x1="110.0" y1="381.6" x2="111.0" y2="381.6" stroke="#3a0a0a" stroke-width="0.6"/>
<line x1="110.0" y1="383.5" x2="111.0" y2="383.5" stroke="#3a0a0a" stroke-width="0.6"/>
<line x1="110.0" y1="385.4" x2="111.0" y2="385.4" stroke="#3a0a0a" stroke-width="0.6"/>
<line x1="110.0" y1="387.3" x2="111.0" y2="387.3" stroke="#3a0a0a" stroke-width="0.6"/>
<line x1="110.0" y1="389.2" x2="113.0" y2="389.2" stroke="#3a0a0a" stroke-width="0.6"/>
<line x1="110.0" y1="391.1" x2="111.0" y2="391.1" stroke="#3a0a0a" stroke-width="0.6"/>
<line x1="110.0" y1="393.0" x2="112.0" y2="393.0" stroke="#3a0a0a" stroke-width="0.6"/>
<line x1="110.0" y1="394.9" x2="112.0" y2="394.9" stroke="#3a0a0a" stroke-width="0.6"/>
<line x1="110.0" y1="396.8" x2="112.0" y2="396.8" stroke="#3a0a0a" stroke-width="0.6"/>
<line x1="110.0" y1="398.7" x2="113.0" y2="398.7" stroke="#3a0a0a" stroke-width="0.6"/>
<line x1="112.0" y1="385.0" x2="112.0" y2="401.0" stroke="#3a0a0a" stroke-width="0.6"/>
<text x="119.2" y="360.0" font-size="4.7" fill="#222">10.3.6_SouthAmerica</text>
<line x1="101.9" y1="403.5" x2="105.8" y2="403.5" stroke="#6e6e6e" stroke-width="0.9"/>
<rect x="105.8" y="403.2" width="8.8" height="5.5" fill="#9a9b9c"/>
<line x1="107.2" y1="404.6" x2="109.6" y2="404.6" stroke="#2e2e2e" stroke-width="0.7200000000000001"/>
<line x1="107.6" y1="405.9" x2="108.8" y2="405.9" stroke="#2e2e2e" stroke-width="0.7200000000000001"/>
<line x1="107.6" y1="407.2" x2="110.0" y2="407.2" stroke="#2e2e2e" stroke-width="0.7200000000000001"/>
<line x1="107.6" y1="405.9" x2="107.6" y2="407.2" stroke="#2e2e2e" stroke-width="0.8"/>
<line x1="107.2" y1="406.6" x2="107.6" y2="406.6" stroke="#2e2e2e" stroke-width="0.8"/>
<line x1="107.2" y1="404.6" x2="107.2" y2="406.6" stroke="#2e2e2e" stroke-width="0.8"/>
<line x1="106.4" y1="405.6" x2="107.2" y2="405.6" stroke="#2e2e2e" stroke-width="0.8"/>
<text x="115.6" y="406.8" font-size="4.7" fill="#222">10.3.5_MiddleEast2</text>
<line x1="101.9" y1="410.5" x2="107.0" y2="410.5" stroke="#888" stroke-width="0.8"/>
<line x1="101.9" y1="411.5" x2="112.0" y2="411.5" stroke="#aaa" stroke-width="0.8"/>
<line x1="101.9" y1="413.8" x2="117.5" y2="413.8" stroke="#999" stroke-width="0.8"/>
<line x1="101.9" y1="415.5" x2="109.0" y2="415.5" stroke="#888" stroke-width="0.8"/>
<line x1="101.9" y1="417.0" x2="112.0" y2="417.0" stroke="#aaa" stroke-width="0.8"/>
<line x1="101.9" y1="418.5" x2="108.0" y2="418.5" stroke="#888" stroke-width="0.8"/>
<line x1="101.9" y1="422.2" x2="110.2" y2="422.2" stroke="#6e6e6e" stroke-width="0.9"/>
<line x1="110.2" y1="418.9" x2="110.2" y2="427.6" stroke="#6e6e6e" stroke-width="0.9"/>
<line x1="110.2" y1="418.9" x2="116.0" y2="418.9" stroke="#777" stroke-width="0.7"/>
<line x1="113.0" y1="418.9" x2="113.0" y2="424.0" stroke="#777" stroke-width="0.6"/>
<line x1="110.2" y1="427.6" x2="113.8" y2="427.6" stroke="#6e6e6e" stroke-width="0.9"/>
<rect x="113.8" y="422.8" width="14.1" height="47.7" fill="#9a9b9c"/>
<line x1="119.5" y1="424.6" x2="122.5" y2="424.6" stroke="#2a2a2a" stroke-width="0.7200000000000001"/>
<line x1="119.5" y1="426.7" x2="120.6" y2="426.7" stroke="#2a2a2a" stroke-width="0.7200000000000001"/>
<line x1="119.5" y1="424.6" x2="119.5" y2="426.7" stroke="#2a2a2a" stroke-width="0.8"/>
<line x1="117.9" y1="425.7" x2="119.5" y2="425.7" stroke="#2a2a2a" stroke-width="0.8"/>
<line x1="121.6" y1="428.8" x2="122.6" y2="428.8" stroke="#2a2a2a" stroke-width="0.7200000000000001"/>
<line x1="121.6" y1="430.9" x2="122.8" y2="430.9" stroke="#2a2a2a" stroke-width="0.7200000000000001"/>
<line x1="121.6" y1="433.0" x2="124.0" y2="433.0" stroke="#2a2a2a" stroke-width="0.7200000000000001"/>
<line x1="121.6" y1="430.9" x2="121.6" y2="433.0" stroke="#2a2a2a" stroke-width="0.8"/>
<line x1="121.6" y1="432.0" x2="121.6" y2="432.0" stroke="#2a2a2a" stroke-width="0.8"/>
<line x1="121.6" y1="428.8" x2="121.6" y2="432.0" stroke="#2a2a2a" stroke-width="0.8"/>
<line x1="121.1" y1="430.4" x2="121.6" y2="430.4" stroke="#2a2a2a" stroke-width="0.8"/>
<line x1="121.6" y1="435.1" x2="123.3" y2="435.1" stroke="#2a2a2a" stroke-width="0.7200000000000001"/>
<line x1="121.6" y1="437.2" x2="123.8" y2="437.2" stroke="#2a2a2a" stroke-width="0.7200000000000001"/>
<line x1="121.6" y1="439.3" x2="122.6" y2="439.3" stroke="#2a2a2a" stroke-width="0.7200000000000001"/>
<line x1="121.6" y1="437.2" x2="121.6" y2="439.3" stroke="#2a2a2a" stroke-width="0.8"/>
<line x1="121.6" y1="438.3" x2="121.6" y2="438.3" stroke="#2a2a2a" stroke-width="0.8"/>
<line x1="121.6" y1="435.1" x2="121.6" y2="438.3" stroke="#2a2a2a" stroke-width="0.8"/>
<line x1="121.6" y1="436.7" x2="121.6" y2="436.7" stroke="#2a2a2a" stroke-width="0.8"/>
<line x1="121.6" y1="441.4" x2="124.2" y2="441.4" stroke="#2a2a2a" stroke-width="0.7200000000000001"/>
<line x1="121.6" y1="436.7" x2="121.6" y2="441.4" stroke="#2a2a2a" stroke-width="0.8"/>
<line x1="121.1" y1="439.1" x2="121.6" y2="439.1" stroke="#2a2a2a" stroke-width="0.8"/>
<line x1="121.1" y1="430.4" x2="121.1" y2="439.1" stroke="#2a2a2a" stroke-width="0.8"/>
<line x1="120.1" y1="434.7" x2="121.1" y2="434.7" stroke="#2a2a2a" stroke-width="0.8"/>
<line x1="120.7" y1="443.5" x2="124.5" y2="443.5" stroke="#2a2a2a" stroke-width="0.7200000000000001"/>
<line x1="121.2" y1="445.6" x2="125.3" y2="445.6" stroke="#2a2a2a" stroke-width="0.7200000000000001"/>
<line x1="121.2" y1="447.7" x2="122.9" y2="447.7" stroke="#2a2a2a" stroke-width="0.7200000000000001"/>
<line x1="121.2" y1="445.6" x2="121.2" y2="447.7" stroke="#2a2a2a" stroke-width="0.8"/>
<line x1="120.7" y1="446.6" x2="121.2" y2="446.6" stroke="#2a2a2a" stroke-width="0.8"/>
<line x1="120.7" y1="443.5" x2="120.7" y2="446.6" stroke="#2a2a2a" stroke-width="0.8"/>
<line x1="120.1" y1="445.1" x2="120.7" y2="445.1" stroke="#2a2a2a" stroke-width="0.8"/>
<line x1="120.1" y1="434.7" x2="120.1" y2="445.1" stroke="#2a2a2a" stroke-width="0.8"/>
<line x1="119.5" y1="439.9" x2="120.1" y2="439.9" stroke="#2a2a2a" stroke-width="0.8"/>
<line x1="120.6" y1="449.8" x2="122.3" y2="449.8" stroke="#2a2a2a" stroke-width="0.7200000000000001"/>
<line x1="120.6" y1="451.9" x2="124.5" y2="451.9" stroke="#2a2a2a" stroke-width="0.7200000000000001"/>
<line x1="120.6" y1="449.8" x2="120.6" y2="451.9" stroke="#2a2a2a" stroke-width="0.8"/>
<line x1="119.5" y1="450.8" x2="120.6" y2="450.8" stroke="#2a2a2a" stroke-width="0.8"/>
<line x1="119.5" y1="439.9" x2="119.5" y2="450.8" stroke="#2a2a2a" stroke-width="0.8"/>
<line x1="117.9" y1="445.4" x2="119.5" y2="445.4" stroke="#2a2a2a" stroke-width="0.8"/>
<line x1="117.9" y1="425.7" x2="117.9" y2="445.4" stroke="#2a2a2a" stroke-width="0.8"/>
<line x1="116.4" y1="435.5" x2="117.9" y2="435.5" stroke="#2a2a2a" stroke-width="0.8"/>
<line x1="118.0" y1="454.0" x2="120.7" y2="454.0" stroke="#2a2a2a" stroke-width="0.7200000000000001"/>
<line x1="118.0" y1="456.1" x2="119.9" y2="456.1" stroke="#2a2a2a" stroke-width="0.7200000000000001"/>
<line x1="118.0" y1="454.0" x2="118.0" y2="456.1" stroke="#2a2a2a" stroke-width="0.8"/>
<line x1="117.4" y1="455.0" x2="118.0" y2="455.0" stroke="#2a2a2a" stroke-width="0.8"/>
<line x1="121.6" y1="458.2" x2="124.1" y2="458.2" stroke="#2a2a2a" stroke-width="0.7200000000000001"/>
<line x1="121.6" y1="460.3" x2="125.9" y2="460.3" stroke="#2a2a2a" stroke-width="0.7200000000000001"/>
<line x1="121.6" y1="458.2" x2="121.6" y2="460.3" stroke="#2a2a2a" stroke-width="0.8"/>
<line x1="121.2" y1="459.2" x2="121.6" y2="459.2" stroke="#2a2a2a" stroke-width="0.8"/>
<line x1="121.2" y1="462.4" x2="124.7" y2="462.4" stroke="#2a2a2a" stroke-width="0.7200000000000001"/>
<line x1="121.2" y1="459.2" x2="121.2" y2="462.4" stroke="#2a2a2a" stroke-width="0.8"/>
<line x1="119.2" y1="460.8" x2="121.2" y2="460.8" stroke="#2a2a2a" stroke-width="0.8"/>
<line x1="119.7" y1="464.5" x2="121.2" y2="464.5" stroke="#2a2a2a" stroke-width="0.7200000000000001"/>
<line x1="120.5" y1="466.6" x2="124.5" y2="466.6" stroke="#2a2a2a" stroke-width="0.7200000000000001"/>
<line x1="120.5" y1="468.7" x2="122.8" y2="468.7" stroke="#2a2a2a" stroke-width="0.7200000000000001"/>
<line x1="120.5" y1="466.6" x2="120.5" y2="468.7" stroke="#2a2a2a" stroke-width="0.8"/>
<line x1="119.7" y1="467.6" x2="120.5" y2="467.6" stroke="#2a2a2a" stroke-width="0.8"/>
<line x1="119.7" y1="464.5" x2="119.7" y2="467.6" stroke="#2a2a2a" stroke-width="0.8"/>
<line x1="119.2" y1="466.0" x2="119.7" y2="466.0" stroke="#2a2a2a" stroke-width="0.8"/>
<line x1="119.2" y1="460.8" x2="119.2" y2="466.0" stroke="#2a2a2a" stroke-width="0.8"/>
<line x1="117.4" y1="463.4" x2="119.2" y2="463.4" stroke="#2a2a2a" stroke-width="0.8"/>
<line x1="117.4" y1="455.0" x2="117.4" y2="463.4" stroke="#2a2a2a" stroke-width="0.8"/>
<line x1="116.4" y1="459.2" x2="117.4" y2="459.2" stroke="#2a2a2a" stroke-width="0.8"/>
<line x1="116.4" y1="435.5" x2="116.4" y2="459.2" stroke="#2a2a2a" stroke-width="0.8"/>
<line x1="114.4" y1="447.4" x2="116.4" y2="447.4" stroke="#2a2a2a" stroke-width="0.8"/>
<text x="129.3" y="447.2" font-size="4.7" fill="#222">10.3.7_NorthAfrica2</text>
<line x1="101.9" y1="472.0" x2="104.3" y2="472.0" stroke="#6e6e6e" stroke-width="0.9"/>
<line x1="104.3" y1="471.0" x2="104.3" y2="520.6" stroke="#6e6e6e" stroke-width="0.9"/>
<line x1="104.3" y1="471.5" x2="112.0" y2="471.5" stroke="#888" stroke-width="0.7"/>
<line x1="104.3" y1="473.3" x2="110.0" y2="473.3" stroke="#888" stroke-width="0.7"/>
<line x1="106.0" y1="473.0" x2="106.0" y2="480.0" stroke="#888" stroke-width="0.6"/>
<line x1="106.0" y1="476.0" x2="111.0" y2="476.0" stroke="#888" stroke-width="0.6"/>
<line x1="106.0" y1="478.0" x2="109.5" y2="478.0" stroke="#888" stroke-width="0.6"/>
<line x1="106.2" y1="475.0" x2="106.2" y2="483.0" stroke="#6e6e6e" stroke-width="0.9"/>
<line x1="106.2" y1="481.5" x2="112.1" y2="481.5" stroke="#6e6e6e" stroke-width="0.9"/>
<line x1="107.3" y1="480.0" x2="107.3" y2="493.5" stroke="#6e6e6e" stroke-width="0.9"/>
<line x1="107.3" y1="493.5" x2="111.4" y2="493.5" stroke="#6e6e6e" stroke-width="0.9"/>
<rect x="112.1" y="479.3" width="5.8" height="4.2" fill="#ede31c"/>
<line x1="113.3" y1="480.8" x2="114.3" y2="480.8" stroke="#333" stroke-width="0.7200000000000001"/>
<line x1="113.3" y1="482.1" x2="114.5" y2="482.1" stroke="#333" stroke-width="0.7200000000000001"/>
<line x1="113.3" y1="480.8" x2="113.3" y2="482.1" stroke="#333" stroke-width="0.8"/>
<line x1="112.7" y1="481.4" x2="113.3" y2="481.4" stroke="#333" stroke-width="0.8"/>
<text x="119.4" y="482.9" font-size="4.7" fill="#222">10.3.8.1_SouthAsia2</text>
<rect x="111.4" y="483.8" width="4.6" height="24.0" fill="#b4dcae"/>
<line x1="112.3" y1="485.0" x2="113.2" y2="495.0" stroke="#112" stroke-width="0.7"/>
<line x1="113.2" y1="495.0" x2="112.4" y2="506.0" stroke="#112" stroke-width="0.7"/>
<line x1="112.0" y1="486.0" x2="112.0" y2="506.0" stroke="#334" stroke-width="0.5"/>
<text x="116.7" y="496.2" font-size="4.7" fill="#222">10.3.8.2_Turkey3</text>
<line x1="104.3" y1="509.4" x2="113.0" y2="509.4" stroke="#6e6e6e" stroke-width="0.9"/>
<line x1="108.0" y1="508.0" x2="108.0" y2="512.0" stroke="#777" stroke-width="0.6"/>
<text x="114.8" y="511.6" font-size="4.7" fill="#222">10.3.8.3_MiddleEast3</text>
<line x1="104.3" y1="515.0" x2="107.1" y2="515.0" stroke="#6e6e6e" stroke-width="0.9"/>
<rect x="107.1" y="512.9" width="15.6" height="6.7" fill="#9a9b9c"/>
<line x1="108.1" y1="514.5" x2="110.8" y2="514.5" stroke="#2e2e2e" stroke-width="0.7200000000000001"/>
<line x1="108.8" y1="516.2" x2="112.4" y2="516.2" stroke="#2e2e2e" stroke-width="0.7200000000000001"/>
<line x1="108.8" y1="517.9" x2="113.5" y2="517.9" stroke="#2e2e2e" stroke-width="0.7200000000000001"/>
<line x1="108.8" y1="516.2" x2="108.8" y2="517.9" stroke="#2e2e2e" stroke-width="0.8"/>
<line x1="108.1" y1="517.1" x2="108.8" y2="517.1" stroke="#2e2e2e" stroke-width="0.8"/>
<line x1="108.1" y1="514.5" x2="108.1" y2="517.1" stroke="#2e2e2e" stroke-width="0.8"/>
<line x1="107.7" y1="515.8" x2="108.1" y2="515.8" stroke="#2e2e2e" stroke-width="0.8"/>
<text x="124.0" y="518.6" font-size="4.7" fill="#222">10.3.8.4_MiddleEast4</text>
<rect x="104.7" y="520.6" width="12.9" height="26.2" fill="#9a9b9c"/>
<line x1="108.2" y1="522.4" x2="110.3" y2="522.4" stroke="#333" stroke-width="0.7200000000000001"/>
<line x1="109.8" y1="524.5" x2="111.6" y2="524.5" stroke="#333" stroke-width="0.7200000000000001"/>
<line x1="109.8" y1="526.5" x2="111.4" y2="526.5" stroke="#333" stroke-width="0.7200000000000001"/>
<line x1="109.8" y1="524.5" x2="109.8" y2="526.5" stroke="#333" stroke-width="0.8"/>
<line x1="108.2" y1="525.5" x2="109.8" y2="525.5" stroke="#333" stroke-width="0.8"/>
<line x1="108.2" y1="522.4" x2="108.2" y2="525.5" stroke="#333" stroke-width="0.8"/>
<line x1="106.9" y1="524.0" x2="108.2" y2="524.0" stroke="#333" stroke-width="0.8"/>
<line x1="110.9" y1="528.6" x2="112.3" y2="528.6" stroke="#333" stroke-width="0.7200000000000001"/>
<line x1="110.9" y1="530.6" x2="112.1" y2="530.6" stroke="#333" stroke-width="0.7200000000000001"/>
<line x1="110.9" y1="528.6" x2="110.9" y2="530.6" stroke="#333" stroke-width="0.8"/>
<line x1="109.9" y1="529.6" x2="110.9" y2="529.6" stroke="#333" stroke-width="0.8"/>
<line x1="110.7" y1="532.7" x2="114.1" y2="532.7" stroke="#333" stroke-width="0.7200000000000001"/>
<line x1="110.7" y1="534.7" x2="112.6" y2="534.7" stroke="#333" stroke-width="0.7200000000000001"/>
<line x1="110.7" y1="532.7" x2="110.7" y2="534.7" stroke="#333" stroke-width="0.8"/>
<line x1="109.9" y1="533.7" x2="110.7" y2="533.7" stroke="#333" stroke-width="0.8"/>
<line x1="109.9" y1="529.6" x2="109.9" y2="533.7" stroke="#333" stroke-width="0.8"/>
<line x1="108.3" y1="531.6" x2="109.9" y2="531.6" stroke="#333" stroke-width="0.8"/>
<line x1="110.8" y1="536.8" x2="115.2" y2="536.8" stroke="#333" stroke-width="0.7200000000000001"/>
<line x1="111.5" y1="538.8" x2="114.5" y2="538.8" stroke="#333" stroke-width="0.7200000000000001"/>
<line x1="111.8" y1="540.9" x2="116.0" y2="540.9" stroke="#333" stroke-width="0.7200000000000001"/>
<line x1="111.8" y1="542.9" x2="113.5" y2="542.9" stroke="#333" stroke-width="0.7200000000000001"/>
<line x1="111.8" y1="540.9" x2="111.8" y2="542.9" stroke="#333" stroke-width="0.8"/>
<line x1="111.5" y1="541.9" x2="111.8" y2="541.9" stroke="#333" stroke-width="0.8"/>
<line x1="111.5" y1="538.8" x2="111.5" y2="541.9" stroke="#333" stroke-width="0.8"/>
<line x1="110.8" y1="540.4" x2="111.5" y2="540.4" stroke="#333" stroke-width="0.8"/>
<line x1="110.8" y1="536.8" x2="110.8" y2="540.4" stroke="#333" stroke-width="0.8"/>
<line x1="109.1" y1="538.6" x2="110.8" y2="538.6" stroke="#333" stroke-width="0.8"/>
<line x1="109.1" y1="545.0" x2="110.2" y2="545.0" stroke="#333" stroke-width="0.7200000000000001"/>
<line x1="109.1" y1="538.6" x2="109.1" y2="545.0" stroke="#333" stroke-width="0.8"/>
<line x1="108.3" y1="541.8" x2="109.1" y2="541.8" stroke="#333" stroke-width="0.8"/>
<line x1="108.3" y1="531.6" x2="108.3" y2="541.8" stroke="#333" stroke-width="0.8"/>
<line x1="106.9" y1="536.7" x2="108.3" y2="536.7" stroke="#333" stroke-width="0.8"/>
<line x1="106.9" y1="524.0" x2="106.9" y2="536.7" stroke="#333" stroke-width="0.8"/>
<line x1="105.3" y1="530.3" x2="106.9" y2="530.3" stroke="#333" stroke-width="0.8"/>
<text x="118.5" y="536.0" font-size="4.7" fill="#222">10.3.8.5_EuropeNorthAfrica</text>
<text x="143.8" y="547.3" font-size="8.0" fill="#222" text-anchor="middle">0.01</text>
<line x1="128.2" y1="549.5" x2="160.0" y2="549.5" stroke="#222" stroke-width="1.0"/>
</svg>
</body></html>
